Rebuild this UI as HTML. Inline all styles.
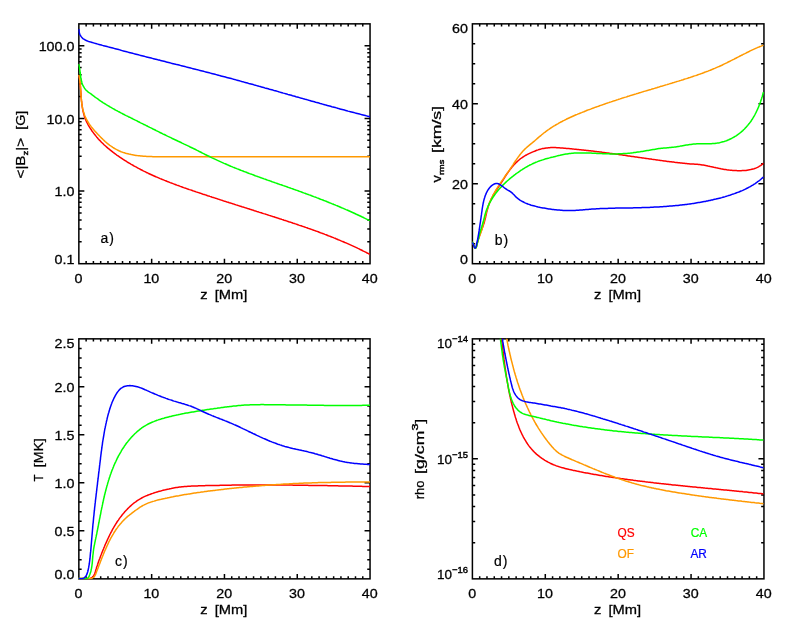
<!DOCTYPE html>
<html><head><meta charset="utf-8"><title>Figure</title>
<style>html,body{margin:0;padding:0;background:#fff}svg{display:block}text{font-family:"Liberation Sans",sans-serif}</style></head>
<body>
<svg width="786" height="629" viewBox="0 0 786 629" font-family='"Liberation Sans", sans-serif'>
<rect width="786" height="629" fill="#fff"/>
<defs>
<clipPath id="cla"><rect x="78.25" y="23.85" width="292.4" height="240.25"/></clipPath>
<clipPath id="clb"><rect x="471.8" y="23.85" width="292.75" height="240.25"/></clipPath>
<clipPath id="clc"><rect x="78.25" y="338.85" width="292.4" height="240.4"/></clipPath>
<clipPath id="cld"><rect x="471.8" y="338.85" width="292.75" height="240.4"/></clipPath>
<filter id="nf" x="0" y="0" width="786" height="629" filterUnits="userSpaceOnUse"><feOffset dx="0" dy="0"/></filter>
</defs>
<g stroke="#000" stroke-width="1.5" fill="none" stroke-linecap="butt">
<rect x="78.85" y="23.85" width="291.2" height="239.85" stroke-linejoin="miter"/>
<path d="M86.13 263.7L86.13 261M86.13 23.85L86.13 26.55M93.41 263.7L93.41 261M93.41 23.85L93.41 26.55M100.69 263.7L100.69 261M100.69 23.85L100.69 26.55M107.97 263.7L107.97 261M107.97 23.85L107.97 26.55M115.25 263.7L115.25 261M115.25 23.85L115.25 26.55M122.53 263.7L122.53 261M122.53 23.85L122.53 26.55M129.81 263.7L129.81 261M129.81 23.85L129.81 26.55M137.09 263.7L137.09 261M137.09 23.85L137.09 26.55M144.37 263.7L144.37 261M144.37 23.85L144.37 26.55M151.65 263.7L151.65 258.8M151.65 23.85L151.65 28.75M158.93 263.7L158.93 261M158.93 23.85L158.93 26.55M166.21 263.7L166.21 261M166.21 23.85L166.21 26.55M173.49 263.7L173.49 261M173.49 23.85L173.49 26.55M180.77 263.7L180.77 261M180.77 23.85L180.77 26.55M188.05 263.7L188.05 261M188.05 23.85L188.05 26.55M195.33 263.7L195.33 261M195.33 23.85L195.33 26.55M202.61 263.7L202.61 261M202.61 23.85L202.61 26.55M209.89 263.7L209.89 261M209.89 23.85L209.89 26.55M217.17 263.7L217.17 261M217.17 23.85L217.17 26.55M224.45 263.7L224.45 258.8M224.45 23.85L224.45 28.75M231.73 263.7L231.73 261M231.73 23.85L231.73 26.55M239.01 263.7L239.01 261M239.01 23.85L239.01 26.55M246.29 263.7L246.29 261M246.29 23.85L246.29 26.55M253.57 263.7L253.57 261M253.57 23.85L253.57 26.55M260.85 263.7L260.85 261M260.85 23.85L260.85 26.55M268.13 263.7L268.13 261M268.13 23.85L268.13 26.55M275.41 263.7L275.41 261M275.41 23.85L275.41 26.55M282.69 263.7L282.69 261M282.69 23.85L282.69 26.55M289.97 263.7L289.97 261M289.97 23.85L289.97 26.55M297.25 263.7L297.25 258.8M297.25 23.85L297.25 28.75M304.53 263.7L304.53 261M304.53 23.85L304.53 26.55M311.81 263.7L311.81 261M311.81 23.85L311.81 26.55M319.09 263.7L319.09 261M319.09 23.85L319.09 26.55M326.37 263.7L326.37 261M326.37 23.85L326.37 26.55M333.65 263.7L333.65 261M333.65 23.85L333.65 26.55M340.93 263.7L340.93 261M340.93 23.85L340.93 26.55M348.21 263.7L348.21 261M348.21 23.85L348.21 26.55M355.49 263.7L355.49 261M355.49 23.85L355.49 26.55M362.77 263.7L362.77 261M362.77 23.85L362.77 26.55M78.85 191.04L84.35 191.04M370.05 191.04L364.55 191.04M78.85 118.38L84.35 118.38M370.05 118.38L364.55 118.38M78.85 45.72L84.35 45.72M370.05 45.72L364.55 45.72M78.85 241.83L81.65 241.83M370.05 241.83L367.25 241.83M78.85 229.03L81.65 229.03M370.05 229.03L367.25 229.03M78.85 219.95L81.65 219.95M370.05 219.95L367.25 219.95M78.85 212.91L81.65 212.91M370.05 212.91L367.25 212.91M78.85 207.16L81.65 207.16M370.05 207.16L367.25 207.16M78.85 202.3L81.65 202.3M370.05 202.3L367.25 202.3M78.85 198.08L81.65 198.08M370.05 198.08L367.25 198.08M78.85 194.37L81.65 194.37M370.05 194.37L367.25 194.37M78.85 169.17L81.65 169.17M370.05 169.17L367.25 169.17M78.85 156.37L81.65 156.37M370.05 156.37L367.25 156.37M78.85 147.3L81.65 147.3M370.05 147.3L367.25 147.3M78.85 140.25L81.65 140.25M370.05 140.25L367.25 140.25M78.85 134.5L81.65 134.5M370.05 134.5L367.25 134.5M78.85 129.64L81.65 129.64M370.05 129.64L367.25 129.64M78.85 125.42L81.65 125.42M370.05 125.42L367.25 125.42M78.85 121.71L81.65 121.71M370.05 121.71L367.25 121.71M78.85 96.51L81.65 96.51M370.05 96.51L367.25 96.51M78.85 83.71L81.65 83.71M370.05 83.71L367.25 83.71M78.85 74.64L81.65 74.64M370.05 74.64L367.25 74.64M78.85 67.6L81.65 67.6M370.05 67.6L367.25 67.6M78.85 61.84L81.65 61.84M370.05 61.84L367.25 61.84M78.85 56.98L81.65 56.98M370.05 56.98L367.25 56.98M78.85 52.76L81.65 52.76M370.05 52.76L367.25 52.76M78.85 49.05L81.65 49.05M370.05 49.05L367.25 49.05"/>
</g>
<g fill="none" stroke-width="1.5" stroke-linejoin="round" stroke-linecap="butt">
<path d="M78.8 74.9 79 76.1 79.2 77.3 79.4 78.4 79.6 79.6 79.8 80.8 79.9 81.9 80.1 83.1 80.2 84.3 80.3 85.5 80.4 86.7 80.5 87.9 80.6 89.1 80.7 90.3 80.8 91.5 80.9 92.7 81 94 81.1 95.2 81.1 96.4 81.2 97.6 81.3 98.8 81.4 100 81.5 101.2 81.7 102.4 81.8 103.6 82 104.8 82.1 106 82.3 107.2 82.5 108.3 82.7 109.5 82.9 110.7 83.2 111.8 83.5 113 83.8 114.1 84.1 115.3 84.4 116.4 84.8 117.5 85.2 118.6 85.7 119.7 86.1 120.8 86.6 121.9 87.2 123 87.7 124 88.3 125.1 88.9 126.1 89.5 127.1 90.2 128.2 90.9 129.2 91.5 130.2 92.2 131.2 92.9 132.1 93.6 133.1 94.3 134.1 95.1 135 95.8 135.9 96.6 136.9 97.4 137.8 98.1 138.7 98.9 139.6 99.8 140.4 100.6 141.3 101.4 142.2 102.3 143 103.1 143.8 104 144.7 104.9 145.5 105.8 146.3 106.7 147.1 107.6 147.9 108.5 148.7 109.5 149.4 110.4 150.2 111.3 150.9 112.3 151.7 113.2 152.4 114.2 153.1 115.2 153.8 116.1 154.5 117.1 155.3 118.1 155.9 119.1 156.6 120.1 157.3 121.1 158 122.1 158.6 123.1 159.3 124.1 160 125.1 160.6 126.1 161.2 127.1 161.9 128.1 162.5 129.2 163.1 130.2 163.7 131.2 164.3 132.3 164.9 133.3 165.5 134.3 166.1 135.4 166.7 136.4 167.2 137.5 167.8 138.5 168.4 139.6 168.9 140.6 169.5 141.7 170 142.8 170.6 143.8 171.1 144.9 171.6 146 172.2 147.1 172.7 148.1 173.2 149.2 173.7 150.3 174.2 151.4 174.7 152.5 175.2 153.6 175.7 154.7 176.2 155.8 176.7 156.9 177.1 158 177.6 159.1 178.1 160.2 178.6 161.3 179 162.4 179.5 163.5 179.9 164.6 180.4 165.7 180.8 166.8 181.3 168 181.7 169.1 182.1 170.2 182.6 171.3 183 172.4 183.4 173.6 183.9 174.7 184.3 175.8 184.7 176.9 185.1 178.1 185.5 179.2 185.9 180.3 186.4 181.5 186.8 182.6 187.2 183.7 187.6 184.9 188 186 188.4 187.1 188.8 188.3 189.2 189.4 189.6 190.5 189.9 191.7 190.3 192.8 190.7 194 191.1 195.1 191.5 196.2 191.9 197.4 192.3 198.5 192.6 199.7 193 200.8 193.4 201.9 193.8 203.1 194.2 204.2 194.5 205.4 194.9 206.5 195.3 207.6 195.7 208.8 196 209.9 196.4 211.1 196.8 212.2 197.2 213.3 197.5 214.5 197.9 215.6 198.3 216.8 198.6 217.9 199 219.1 199.4 220.2 199.8 221.3 200.1 222.5 200.5 223.6 200.9 224.8 201.2 225.9 201.6 227 202 228.2 202.3 229.3 202.7 230.5 203 231.6 203.4 232.7 203.8 233.9 204.1 235 204.5 236.2 204.9 237.3 205.2 238.5 205.6 239.6 206 240.7 206.3 241.9 206.7 243 207 244.2 207.4 245.3 207.8 246.5 208.1 247.6 208.5 248.7 208.8 249.9 209.2 251 209.6 252.2 209.9 253.3 210.3 254.4 210.7 255.6 211 256.7 211.4 257.9 211.7 259 212.1 260.2 212.5 261.3 212.8 262.4 213.2 263.6 213.6 264.7 213.9 265.9 214.3 267 214.6 268.1 215 269.3 215.4 270.4 215.7 271.6 216.1 272.7 216.5 273.9 216.8 275 217.2 276.1 217.6 277.3 217.9 278.4 218.3 279.6 218.7 280.7 219 281.8 219.4 283 219.8 284.1 220.2 285.3 220.5 286.4 220.9 287.5 221.3 288.7 221.7 289.8 222 291 222.4 292.1 222.8 293.2 223.2 294.4 223.5 295.5 223.9 296.7 224.3 297.8 224.7 298.9 225.1 300.1 225.5 301.2 225.8 302.3 226.2 303.5 226.6 304.6 227 305.7 227.4 306.9 227.8 308 228.2 309.2 228.6 310.3 229 311.4 229.4 312.5 229.8 313.7 230.2 314.8 230.6 315.9 231 317.1 231.4 318.2 231.8 319.3 232.3 320.4 232.7 321.6 233.1 322.7 233.5 323.8 233.9 324.9 234.4 326.1 234.8 327.2 235.2 328.3 235.7 329.4 236.1 330.5 236.5 331.7 237 332.8 237.4 333.9 237.9 335 238.3 336.1 238.8 337.2 239.2 338.3 239.7 339.4 240.1 340.5 240.6 341.6 241.1 342.7 241.5 343.8 242 344.9 242.5 346 242.9 347.1 243.4 348.2 243.9 349.3 244.4 350.4 244.9 351.5 245.4 352.6 245.9 353.7 246.4 354.8 246.9 355.9 247.4 357 247.9 358 248.4 359.1 248.9 360.2 249.5 361.3 250 362.3 250.5 363.4 251.1 364.5 251.6 365.6 252.1 366.6 252.7 367.7 253.2 368.8 253.8 369.8 254.4" stroke="#ff0000" clip-path="url(#cla)"/>
<path d="M78.8 74.9 79 76.1 79.3 77.3 79.5 78.4 79.7 79.6 79.9 80.8 80 81.9 80.1 83.1 80.3 84.3 80.4 85.5 80.5 86.7 80.5 87.9 80.6 89.1 80.7 90.3 80.8 91.5 80.8 92.7 80.9 93.9 81 95.1 81.1 96.3 81.2 97.5 81.3 98.8 81.4 100 81.5 101.2 81.7 102.4 81.8 103.6 82 104.8 82.2 106 82.4 107.2 82.6 108.4 82.9 109.5 83.2 110.7 83.5 111.8 83.9 113 84.2 114.1 84.6 115.2 85.1 116.3 85.5 117.4 86 118.4 86.5 119.5 87.1 120.5 87.7 121.5 88.3 122.5 88.9 123.5 89.6 124.5 90.3 125.4 91 126.4 91.7 127.3 92.5 128.2 93.3 129.2 94 130.1 94.8 131 95.6 131.9 96.5 132.8 97.3 133.7 98.1 134.6 99 135.4 99.8 136.3 100.7 137.2 101.6 138.1 102.5 138.9 103.3 139.8 104.2 140.6 105.1 141.5 106.1 142.3 107 143.1 107.9 143.8 108.9 144.6 109.8 145.3 110.8 146 111.8 146.7 112.8 147.4 113.8 148 114.8 148.6 115.8 149.2 116.8 149.7 117.9 150.3 119 150.8 120 151.2 121.1 151.7 122.2 152.1 123.3 152.5 124.4 152.8 125.6 153.2 126.7 153.5 127.8 153.8 129 154.1 130.1 154.3 131.3 154.6 132.4 154.8 133.6 155 134.8 155.2 136 155.4 137.2 155.6 138.4 155.7 139.6 155.8 140.8 156 142 156.1 143.2 156.2 144.4 156.3 145.6 156.3 146.8 156.4 148 156.5 149.2 156.5 150.5 156.6 151.7 156.6 152.9 156.7 154.1 156.7 155.3 156.7 156.5 156.8 157.8 156.8 159 156.8 160.2 156.8 161.4 156.8 162.6 156.8 163.8 156.8 165 156.8 166.2 156.8 167.4 156.8 168.6 156.8 169.8 156.8 171 156.8 172.2 156.8 173.4 156.8 174.6 156.8 175.8 156.8 177 156.8 178.2 156.8 179.4 156.8 180.6 156.8 181.8 156.8 183 156.8 184.2 156.8 185.4 156.8 186.6 156.8 187.8 156.8 189 156.8 190.2 156.8 191.4 156.8 192.6 156.8 193.7 156.8 194.9 156.8 196.1 156.8 197.3 156.8 198.5 156.8 199.7 156.8 200.9 156.8 202.1 156.8 203.3 156.8 204.5 156.8 205.7 156.8 206.9 156.8 208.1 156.8 209.3 156.8 210.5 156.8 211.7 156.8 212.9 156.8 214.1 156.8 215.3 156.8 216.4 156.8 217.6 156.8 218.8 156.8 220 156.8 221.2 156.8 222.4 156.8 223.6 156.8 224.8 156.8 226 156.8 227.2 156.8 228.4 156.8 229.6 156.8 230.8 156.8 232 156.8 233.2 156.8 234.4 156.8 235.6 156.8 236.8 156.8 238 156.8 239.2 156.8 240.4 156.8 241.6 156.8 242.8 156.8 244 156.8 245.2 156.8 246.4 156.8 247.6 156.8 248.8 156.8 250 156.8 251.2 156.8 252.4 156.8 253.6 156.8 254.8 156.8 256 156.8 257.2 156.8 258.4 156.8 259.6 156.8 260.8 156.8 262 156.8 263.2 156.8 264.4 156.8 265.6 156.8 266.8 156.8 268 156.8 269.2 156.8 270.4 156.8 271.6 156.8 272.8 156.8 274 156.8 275.2 156.8 276.4 156.8 277.6 156.8 278.8 156.8 280 156.8 281.2 156.8 282.4 156.8 283.6 156.8 284.8 156.8 286 156.8 287.2 156.8 288.4 156.8 289.6 156.8 290.8 156.8 292 156.8 293.2 156.8 294.4 156.8 295.6 156.8 296.8 156.8 298 156.8 299.2 156.8 300.4 156.8 301.6 156.8 302.8 156.8 304 156.8 305.2 156.8 306.5 156.8 307.7 156.8 308.9 156.8 310.1 156.8 311.3 156.8 312.5 156.8 313.7 156.8 314.9 156.8 316.1 156.8 317.3 156.8 318.5 156.8 319.7 156.8 320.9 156.8 322.1 156.8 323.3 156.8 324.5 156.8 325.7 156.8 326.9 156.8 328.1 156.8 329.3 156.8 330.5 156.8 331.7 156.8 332.9 156.8 334.1 156.8 335.3 156.8 336.5 156.8 337.7 156.8 338.9 156.8 340.1 156.8 341.2 156.8 342.4 156.8 343.6 156.8 344.8 156.8 346 156.8 347.2 156.8 348.4 156.8 349.6 156.8 350.8 156.8 352 156.8 353.2 156.8 354.4 156.8 355.6 156.8 356.8 156.8 358 156.8 359.2 156.8 360.4 156.8 361.6 156.8 362.8 156.8 364 156.8 365.2 156.8 366.4 156.8 367.6 156.8 368.8 156.8 370 156.8" stroke="#ff9900" clip-path="url(#cla)"/>
<path d="M78.6 64.1 78.9 65.2 79.2 66.3 79.4 67.5 79.6 68.6 79.8 69.8 80 71 80.1 72.2 80.3 73.4 80.4 74.6 80.6 75.9 80.7 77.1 80.9 78.3 81.2 79.5 81.4 80.6 81.7 81.8 82 82.9 82.4 84.1 82.8 85.1 83.3 86.2 83.9 87.2 84.5 88.2 85.2 89.1 85.9 90 86.8 90.8 87.7 91.6 88.6 92.3 89.6 93 90.6 93.7 91.6 94.4 92.5 95.2 93.5 95.9 94.5 96.6 95.4 97.3 96.4 98 97.4 98.7 98.4 99.4 99.3 100.1 100.3 100.8 101.3 101.5 102.3 102.1 103.3 102.8 104.3 103.4 105.3 104 106.3 104.7 107.4 105.3 108.4 105.9 109.4 106.5 110.4 107.1 111.5 107.7 112.5 108.3 113.6 108.9 114.6 109.5 115.6 110.1 116.7 110.6 117.7 111.2 118.8 111.8 119.9 112.3 120.9 112.9 122 113.4 123 114 124.1 114.5 125.2 115.1 126.2 115.6 127.3 116.1 128.4 116.7 129.5 117.2 130.5 117.7 131.6 118.3 132.7 118.8 133.7 119.3 134.8 119.9 135.9 120.4 137 120.9 138 121.5 139.1 122 140.2 122.6 141.2 123.1 142.3 123.6 143.4 124.2 144.5 124.7 145.5 125.2 146.6 125.8 147.7 126.3 148.7 126.8 149.8 127.4 150.9 127.9 151.9 128.4 153 129 154.1 129.5 155.2 130 156.2 130.6 157.3 131.1 158.4 131.6 159.4 132.2 160.5 132.7 161.6 133.2 162.7 133.8 163.7 134.3 164.8 134.8 165.9 135.3 167 135.9 168 136.4 169.1 136.9 170.2 137.4 171.3 137.9 172.3 138.5 173.4 139 174.5 139.5 175.6 140 176.7 140.5 177.7 141 178.8 141.5 179.9 142 181 142.5 182.1 143.1 183.2 143.6 184.2 144.1 185.3 144.6 186.4 145.1 187.5 145.6 188.6 146.1 189.6 146.7 190.7 147.2 191.8 147.7 192.9 148.2 193.9 148.8 195 149.3 196.1 149.8 197.2 150.4 198.2 150.9 199.3 151.5 200.4 152 201.4 152.5 202.5 153.1 203.6 153.6 204.6 154.2 205.7 154.7 206.8 155.2 207.8 155.8 208.9 156.3 210 156.8 211.1 157.4 212.1 157.9 213.2 158.4 214.3 158.9 215.4 159.4 216.5 159.9 217.5 160.4 218.6 160.9 219.7 161.4 220.8 161.9 221.9 162.4 223 162.9 224.1 163.4 225.2 163.8 226.3 164.3 227.4 164.8 228.5 165.2 229.6 165.7 230.7 166.2 231.8 166.6 232.9 167.1 234 167.5 235.1 168 236.2 168.4 237.3 168.9 238.5 169.3 239.6 169.7 240.7 170.2 241.8 170.6 242.9 171 244 171.5 245.2 171.9 246.3 172.3 247.4 172.8 248.5 173.2 249.6 173.6 250.8 174 251.9 174.4 253 174.8 254.1 175.2 255.2 175.7 256.4 176.1 257.5 176.5 258.6 176.9 259.7 177.3 260.9 177.7 262 178.1 263.1 178.5 264.2 178.9 265.4 179.3 266.5 179.7 267.6 180.1 268.8 180.5 269.9 180.9 271 181.3 272.1 181.7 273.3 182.1 274.4 182.5 275.5 182.9 276.7 183.3 277.8 183.7 278.9 184.1 280 184.5 281.2 184.8 282.3 185.2 283.4 185.6 284.6 186 285.7 186.4 286.8 186.8 287.9 187.2 289.1 187.6 290.2 188 291.3 188.4 292.5 188.8 293.6 189.2 294.7 189.6 295.8 190 297 190.4 298.1 190.8 299.2 191.2 300.4 191.6 301.5 192 302.6 192.5 303.7 192.9 304.9 193.3 306 193.7 307.1 194.1 308.2 194.5 309.3 194.9 310.5 195.3 311.6 195.8 312.7 196.2 313.8 196.6 315 197 316.1 197.4 317.2 197.9 318.3 198.3 319.4 198.7 320.5 199.2 321.7 199.6 322.8 200 323.9 200.5 325 200.9 326.1 201.3 327.2 201.8 328.3 202.2 329.5 202.7 330.6 203.1 331.7 203.6 332.8 204 333.9 204.5 335 204.9 336.1 205.4 337.2 205.8 338.3 206.3 339.4 206.7 340.5 207.2 341.6 207.7 342.7 208.1 343.8 208.6 344.9 209.1 346 209.6 347.1 210 348.2 210.5 349.3 211 350.4 211.5 351.5 212 352.6 212.5 353.7 213 354.8 213.5 355.8 214 356.9 214.5 358 215 359.1 215.5 360.2 216 361.3 216.5 362.3 217 363.4 217.5 364.5 218.1 365.6 218.6 366.6 219.1 367.7 219.6 368.8 220.2 369.8 220.7" stroke="#00ff00" clip-path="url(#cla)"/>
<path d="M78.9 29.1 79 30.5 79.1 31.8 79.4 33.1 79.8 34.3 80.4 35.4 81 36.4 81.7 37.3 82.4 38.1 83.3 38.8 84.3 39.4 85.3 40 86.3 40.5 87.4 41 88.5 41.4 89.7 41.7 90.8 42.1 92 42.4 93.2 42.8 94.3 43.1 95.5 43.4 96.7 43.8 97.8 44.1 99 44.4 100.1 44.7 101.3 45 102.5 45.4 103.6 45.7 104.8 46 105.9 46.3 107.1 46.6 108.2 46.9 109.4 47.2 110.6 47.5 111.7 47.8 112.9 48.1 114 48.4 115.2 48.7 116.3 49 117.5 49.3 118.7 49.6 119.8 49.9 121 50.3 122.1 50.6 123.3 50.9 124.4 51.2 125.6 51.5 126.8 51.8 127.9 52.1 129.1 52.4 130.2 52.7 131.4 53 132.6 53.3 133.7 53.6 134.9 53.9 136.1 54.2 137.2 54.5 138.4 54.8 139.5 55.1 140.7 55.4 141.9 55.7 143 56 144.2 56.3 145.3 56.6 146.5 56.9 147.7 57.2 148.8 57.5 150 57.8 151.2 58.1 152.3 58.4 153.5 58.7 154.6 59 155.8 59.3 157 59.6 158.1 59.9 159.3 60.1 160.5 60.4 161.6 60.7 162.8 61 163.9 61.3 165.1 61.6 166.3 61.9 167.4 62.2 168.6 62.5 169.8 62.8 170.9 63.1 172.1 63.4 173.2 63.7 174.4 64 175.6 64.3 176.7 64.6 177.9 64.8 179.1 65.1 180.2 65.4 181.4 65.7 182.5 66 183.7 66.3 184.9 66.6 186 66.9 187.2 67.2 188.4 67.5 189.5 67.8 190.7 68.1 191.8 68.4 193 68.7 194.2 69 195.3 69.3 196.5 69.6 197.7 69.8 198.8 70.1 200 70.4 201.1 70.7 202.3 71 203.5 71.3 204.6 71.6 205.8 71.9 206.9 72.2 208.1 72.5 209.3 72.8 210.4 73.1 211.6 73.4 212.7 73.7 213.9 74 215.1 74.3 216.2 74.6 217.4 74.9 218.5 75.2 219.7 75.6 220.9 75.9 222 76.2 223.2 76.5 224.3 76.8 225.5 77.1 226.7 77.4 227.8 77.7 229 78 230.1 78.3 231.3 78.6 232.4 78.9 233.6 79.3 234.8 79.6 235.9 79.9 237.1 80.2 238.2 80.5 239.4 80.8 240.5 81.1 241.7 81.5 242.9 81.8 244 82.1 245.2 82.4 246.3 82.7 247.5 83 248.6 83.4 249.8 83.7 251 84 252.1 84.3 253.3 84.6 254.4 85 255.6 85.3 256.7 85.6 257.9 85.9 259 86.3 260.2 86.6 261.4 86.9 262.5 87.2 263.7 87.5 264.8 87.9 266 88.2 267.1 88.5 268.3 88.8 269.4 89.2 270.6 89.5 271.7 89.8 272.9 90.1 274.1 90.5 275.2 90.8 276.4 91.1 277.5 91.4 278.7 91.8 279.8 92.1 281 92.4 282.1 92.7 283.3 93.1 284.4 93.4 285.6 93.7 286.7 94 287.9 94.4 289.1 94.7 290.2 95 291.4 95.3 292.5 95.7 293.7 96 294.8 96.3 296 96.7 297.1 97 298.3 97.3 299.4 97.6 300.6 98 301.8 98.3 302.9 98.6 304.1 98.9 305.2 99.3 306.4 99.6 307.5 99.9 308.7 100.2 309.8 100.6 311 100.9 312.1 101.2 313.3 101.5 314.4 101.8 315.6 102.2 316.8 102.5 317.9 102.8 319.1 103.1 320.2 103.5 321.4 103.8 322.5 104.1 323.7 104.4 324.8 104.7 326 105.1 327.2 105.4 328.3 105.7 329.5 106 330.6 106.3 331.8 106.7 332.9 107 334.1 107.3 335.3 107.6 336.4 107.9 337.6 108.2 338.7 108.6 339.9 108.9 341 109.2 342.2 109.5 343.3 109.8 344.5 110.1 345.7 110.4 346.8 110.7 348 111.1 349.1 111.4 350.3 111.7 351.5 112 352.6 112.3 353.8 112.6 354.9 112.9 356.1 113.2 357.3 113.5 358.4 113.8 359.6 114.1 360.7 114.4 361.9 114.7 363.1 115 364.2 115.3 365.4 115.6 366.5 115.9 367.7 116.2 368.9 116.5 370 116.8" stroke="#0000ff" clip-path="url(#cla)"/>
</g>
<g stroke="#000" stroke-width="1.5" fill="none" stroke-linecap="butt">
<rect x="472.4" y="23.85" width="291.55" height="239.85" stroke-linejoin="miter"/>
<path d="M479.69 263.7L479.69 261M479.69 23.85L479.69 26.55M486.98 263.7L486.98 261M486.98 23.85L486.98 26.55M494.27 263.7L494.27 261M494.27 23.85L494.27 26.55M501.56 263.7L501.56 261M501.56 23.85L501.56 26.55M508.84 263.7L508.84 261M508.84 23.85L508.84 26.55M516.13 263.7L516.13 261M516.13 23.85L516.13 26.55M523.42 263.7L523.42 261M523.42 23.85L523.42 26.55M530.71 263.7L530.71 261M530.71 23.85L530.71 26.55M538 263.7L538 261M538 23.85L538 26.55M545.29 263.7L545.29 258.8M545.29 23.85L545.29 28.75M552.58 263.7L552.58 261M552.58 23.85L552.58 26.55M559.87 263.7L559.87 261M559.87 23.85L559.87 26.55M567.15 263.7L567.15 261M567.15 23.85L567.15 26.55M574.44 263.7L574.44 261M574.44 23.85L574.44 26.55M581.73 263.7L581.73 261M581.73 23.85L581.73 26.55M589.02 263.7L589.02 261M589.02 23.85L589.02 26.55M596.31 263.7L596.31 261M596.31 23.85L596.31 26.55M603.6 263.7L603.6 261M603.6 23.85L603.6 26.55M610.89 263.7L610.89 261M610.89 23.85L610.89 26.55M618.17 263.7L618.17 258.8M618.17 23.85L618.17 28.75M625.46 263.7L625.46 261M625.46 23.85L625.46 26.55M632.75 263.7L632.75 261M632.75 23.85L632.75 26.55M640.04 263.7L640.04 261M640.04 23.85L640.04 26.55M647.33 263.7L647.33 261M647.33 23.85L647.33 26.55M654.62 263.7L654.62 261M654.62 23.85L654.62 26.55M661.91 263.7L661.91 261M661.91 23.85L661.91 26.55M669.2 263.7L669.2 261M669.2 23.85L669.2 26.55M676.49 263.7L676.49 261M676.49 23.85L676.49 26.55M683.77 263.7L683.77 261M683.77 23.85L683.77 26.55M691.06 263.7L691.06 258.8M691.06 23.85L691.06 28.75M698.35 263.7L698.35 261M698.35 23.85L698.35 26.55M705.64 263.7L705.64 261M705.64 23.85L705.64 26.55M712.93 263.7L712.93 261M712.93 23.85L712.93 26.55M720.22 263.7L720.22 261M720.22 23.85L720.22 26.55M727.51 263.7L727.51 261M727.51 23.85L727.51 26.55M734.8 263.7L734.8 261M734.8 23.85L734.8 26.55M742.08 263.7L742.08 261M742.08 23.85L742.08 26.55M749.37 263.7L749.37 261M749.37 23.85L749.37 26.55M756.66 263.7L756.66 261M756.66 23.85L756.66 26.55M472.4 183.75L477.9 183.75M763.95 183.75L758.45 183.75M472.4 103.8L477.9 103.8M763.95 103.8L758.45 103.8M472.4 243.71L475.2 243.71M763.95 243.71L761.15 243.71M472.4 223.72L475.2 223.72M763.95 223.72L761.15 223.72M472.4 203.74L475.2 203.74M763.95 203.74L761.15 203.74M472.4 163.76L475.2 163.76M763.95 163.76L761.15 163.76M472.4 143.77L475.2 143.77M763.95 143.77L761.15 143.77M472.4 123.79L475.2 123.79M763.95 123.79L761.15 123.79M472.4 83.81L475.2 83.81M763.95 83.81L761.15 83.81M472.4 63.82L475.2 63.82M763.95 63.82L761.15 63.82M472.4 43.84L475.2 43.84M763.95 43.84L761.15 43.84"/>
</g>
<g fill="none" stroke-width="1.5" stroke-linejoin="round" stroke-linecap="butt">
<path d="M472.3 242.1 472.8 242.9 473.3 244.1 473.8 245.4 474.2 246.7 474.7 247.6 475.2 248 475.7 247.8 476.2 247.1 476.6 246 476.9 244.7 477.2 243.5 477.5 242.3 477.9 241.1 478.2 239.9 478.5 238.8 478.9 237.7 479.2 236.5 479.6 235.4 480 234.3 480.4 233.2 480.8 232.1 481.2 231 481.7 229.8 482.1 228.7 482.5 227.5 482.9 226.4 483.3 225.3 483.7 224.1 484.1 223 484.4 221.8 484.7 220.6 485 219.5 485.3 218.3 485.6 217.2 485.8 216 486.1 214.9 486.4 213.7 486.6 212.5 486.9 211.4 487.2 210.2 487.6 209 487.9 207.9 488.2 206.7 488.6 205.6 489 204.5 489.4 203.3 489.8 202.2 490.3 201.1 490.8 200 491.3 198.9 491.8 197.8 492.4 196.8 492.9 195.7 493.5 194.7 494.1 193.7 494.8 192.6 495.4 191.6 496.1 190.6 496.7 189.6 497.4 188.6 498.1 187.6 498.7 186.6 499.4 185.6 500.1 184.6 500.7 183.6 501.4 182.6 502 181.6 502.7 180.6 503.3 179.6 504 178.6 504.6 177.6 505.2 176.5 505.9 175.5 506.5 174.5 507.2 173.5 507.9 172.5 508.6 171.6 509.3 170.6 510 169.6 510.7 168.7 511.5 167.7 512.2 166.8 513 165.9 513.8 165 514.6 164.1 515.5 163.2 516.3 162.4 517.2 161.6 518.1 160.8 519 160 519.9 159.2 520.8 158.5 521.8 157.8 522.8 157.1 523.8 156.5 524.8 155.8 525.8 155.2 526.9 154.7 528 154.1 529 153.6 530.1 153.1 531.2 152.6 532.3 152.1 533.5 151.6 534.6 151.2 535.7 150.7 536.8 150.3 538 149.9 539.1 149.5 540.3 149.2 541.4 148.9 542.6 148.6 543.7 148.4 544.9 148.2 546.1 148 547.3 147.9 548.4 147.8 549.6 147.7 550.8 147.6 552 147.6 553.2 147.6 554.4 147.6 555.6 147.6 556.8 147.7 558 147.7 559.2 147.8 560.4 147.9 561.6 148 562.8 148.1 564 148.2 565.3 148.3 566.5 148.4 567.7 148.5 568.9 148.6 570.1 148.7 571.2 148.8 572.4 148.9 573.6 149.1 574.8 149.2 576 149.3 577.2 149.4 578.4 149.5 579.6 149.7 580.8 149.8 582 149.9 583.2 150 584.4 150.2 585.5 150.3 586.7 150.4 587.9 150.5 589.1 150.7 590.3 150.8 591.5 151 592.7 151.1 593.9 151.2 595.1 151.4 596.2 151.5 597.4 151.7 598.6 151.8 599.8 152 601 152.1 602.2 152.3 603.4 152.4 604.6 152.6 605.7 152.7 606.9 152.9 608.1 153 609.3 153.2 610.5 153.4 611.7 153.5 612.9 153.7 614.1 153.8 615.3 154 616.4 154.2 617.6 154.3 618.8 154.5 620 154.7 621.2 154.8 622.4 155 623.6 155.2 624.8 155.3 625.9 155.5 627.1 155.7 628.3 155.9 629.5 156 630.7 156.2 631.9 156.4 633.1 156.5 634.3 156.7 635.5 156.9 636.6 157 637.8 157.2 639 157.4 640.2 157.6 641.4 157.7 642.6 157.9 643.8 158.1 645 158.2 646.1 158.4 647.3 158.6 648.5 158.7 649.7 158.9 650.9 159.1 652.1 159.3 653.3 159.4 654.5 159.6 655.7 159.7 656.8 159.9 658 160.1 659.2 160.2 660.4 160.4 661.6 160.6 662.8 160.7 664 160.9 665.2 161 666.3 161.2 667.5 161.4 668.7 161.5 669.9 161.7 671.1 161.8 672.3 162 673.5 162.1 674.7 162.3 675.9 162.4 677 162.5 678.2 162.7 679.4 162.8 680.6 163 681.8 163.1 683 163.2 684.2 163.3 685.4 163.5 686.6 163.6 687.7 163.7 688.9 163.8 690.1 163.9 691.3 163.9 692.5 164 693.7 164.1 694.9 164.2 696.1 164.3 697.3 164.3 698.5 164.5 699.7 164.6 700.9 164.7 702.1 164.9 703.3 165.1 704.4 165.3 705.6 165.5 706.8 165.7 708 166 709.1 166.2 710.3 166.5 711.5 166.7 712.7 167 713.8 167.3 715 167.5 716.2 167.8 717.4 168 718.5 168.3 719.7 168.5 720.9 168.8 722.1 169 723.2 169.2 724.4 169.4 725.6 169.6 726.8 169.8 728 169.9 729.2 170.1 730.4 170.2 731.6 170.3 732.8 170.4 733.9 170.5 735.1 170.6 736.3 170.6 737.5 170.7 738.7 170.7 739.9 170.7 741.1 170.7 742.3 170.6 743.5 170.5 744.7 170.5 745.9 170.4 747.1 170.2 748.3 170 749.5 169.8 750.7 169.6 751.9 169.3 753 169 754.1 168.7 755.3 168.3 756.4 167.9 757.4 167.4 758.5 166.8 759.5 166.2 760.6 165.6 761.5 164.9 762.5 164.1 763.4 163.2" stroke="#ff0000" clip-path="url(#clb)"/>
<path d="M472.3 242 472.8 243.1 473.4 244.1 473.8 245.2 474.2 246.5 474.7 247.6 475.2 248.3 475.8 248 476.3 247 476.6 245.9 476.8 244.7 477.1 243.4 477.4 242.3 477.7 241.1 478.1 240 478.5 238.8 478.9 237.7 479.4 236.6 479.8 235.5 480.2 234.4 480.6 233.2 481 232.1 481.4 231 481.8 229.8 482.1 228.7 482.4 227.5 482.7 226.4 483 225.2 483.3 224.1 483.6 222.9 483.9 221.7 484.2 220.5 484.5 219.4 484.7 218.2 485 217 485.3 215.9 485.6 214.7 485.9 213.5 486.2 212.4 486.6 211.2 486.9 210.1 487.3 208.9 487.7 207.8 488.1 206.7 488.5 205.6 488.9 204.4 489.3 203.3 489.8 202.2 490.3 201.1 490.7 200 491.2 199 491.8 197.9 492.3 196.8 492.8 195.7 493.4 194.7 493.9 193.6 494.5 192.6 495.1 191.5 495.7 190.5 496.3 189.5 496.9 188.4 497.6 187.4 498.2 186.4 498.9 185.4 499.5 184.4 500.2 183.4 500.8 182.4 501.5 181.4 502.2 180.4 502.9 179.5 503.6 178.5 504.3 177.5 504.9 176.5 505.6 175.5 506.3 174.5 507 173.6 507.7 172.6 508.4 171.6 509.1 170.6 509.8 169.6 510.4 168.6 511.1 167.6 511.8 166.6 512.4 165.6 513.1 164.6 513.7 163.6 514.4 162.5 515.1 161.5 515.7 160.5 516.4 159.6 517.1 158.6 517.8 157.6 518.5 156.6 519.2 155.7 519.9 154.7 520.7 153.8 521.4 152.9 522.2 152 523 151.1 523.8 150.2 524.6 149.4 525.5 148.5 526.4 147.7 527.3 146.9 528.2 146.2 529.1 145.4 530 144.6 530.9 143.9 531.9 143.1 532.8 142.3 533.7 141.6 534.7 140.8 535.6 140 536.5 139.2 537.4 138.4 538.3 137.6 539.2 136.8 540.1 136.1 541.1 135.3 542 134.5 542.9 133.8 543.8 133 544.8 132.3 545.7 131.6 546.7 130.9 547.7 130.2 548.7 129.5 549.6 128.8 550.6 128.1 551.6 127.5 552.6 126.8 553.6 126.2 554.7 125.6 555.7 125 556.7 124.4 557.8 123.8 558.8 123.2 559.8 122.6 560.9 122 562 121.5 563 120.9 564.1 120.4 565.2 119.8 566.2 119.3 567.3 118.8 568.4 118.3 569.5 117.8 570.6 117.3 571.7 116.8 572.8 116.3 573.9 115.8 575 115.3 576.1 114.8 577.2 114.4 578.3 113.9 579.4 113.5 580.5 113 581.6 112.6 582.7 112.1 583.9 111.7 585 111.2 586.1 110.8 587.2 110.3 588.3 109.9 589.5 109.5 590.6 109.1 591.7 108.6 592.8 108.2 594 107.8 595.1 107.4 596.2 107 597.3 106.6 598.5 106.2 599.6 105.8 600.7 105.4 601.9 105 603 104.6 604.1 104.2 605.3 103.8 606.4 103.4 607.5 103 608.7 102.6 609.8 102.2 610.9 101.9 612.1 101.5 613.2 101.1 614.3 100.7 615.5 100.4 616.6 100 617.8 99.6 618.9 99.2 620 98.9 621.2 98.5 622.3 98.1 623.5 97.8 624.6 97.4 625.7 97.1 626.9 96.7 628 96.3 629.2 96 630.3 95.6 631.5 95.3 632.6 94.9 633.8 94.6 634.9 94.2 636 93.9 637.2 93.5 638.3 93.2 639.5 92.8 640.6 92.5 641.8 92.1 642.9 91.8 644.1 91.4 645.2 91.1 646.4 90.8 647.5 90.4 648.7 90.1 649.8 89.7 651 89.4 652.1 89 653.3 88.7 654.4 88.4 655.6 88 656.7 87.7 657.9 87.3 659 87 660.1 86.6 661.3 86.3 662.4 86 663.6 85.6 664.7 85.3 665.9 84.9 667 84.6 668.2 84.2 669.3 83.9 670.5 83.5 671.6 83.2 672.8 82.8 673.9 82.5 675.1 82.1 676.2 81.8 677.4 81.4 678.5 81.1 679.7 80.7 680.8 80.4 682 80 683.1 79.7 684.2 79.3 685.4 78.9 686.5 78.6 687.7 78.2 688.8 77.8 690 77.5 691.1 77.1 692.2 76.7 693.4 76.3 694.5 75.9 695.6 75.6 696.8 75.2 697.9 74.8 699 74.4 700.2 74 701.3 73.6 702.4 73.2 703.6 72.8 704.7 72.3 705.8 71.9 706.9 71.5 708 71.1 709.1 70.6 710.3 70.2 711.4 69.7 712.5 69.3 713.6 68.8 714.7 68.4 715.8 67.9 716.9 67.4 718 66.9 719.1 66.5 720.2 66 721.3 65.5 722.4 65 723.4 64.4 724.5 63.9 725.6 63.4 726.7 62.9 727.7 62.3 728.8 61.8 729.9 61.3 731 60.7 732 60.2 733.1 59.6 734.2 59.1 735.2 58.5 736.3 58 737.4 57.4 738.4 56.9 739.5 56.3 740.6 55.8 741.6 55.2 742.7 54.7 743.8 54.1 744.9 53.6 745.9 53.1 747 52.5 748.1 52 749.1 51.5 750.2 50.9 751.3 50.4 752.4 49.9 753.5 49.4 754.6 48.9 755.7 48.4 756.8 47.9 757.8 47.4 759 47 760.1 46.5 761.2 46.1 762.3 45.6 763.4 45.2" stroke="#ff9900" clip-path="url(#clb)"/>
<path d="M472.3 241.8 472.8 242.9 473.3 243.9 473.7 245.1 474.2 246.3 474.7 247.5 475.2 248.2 475.7 248.2 476.2 247.4 476.6 246.4 476.9 245.1 477.2 243.9 477.5 242.7 477.8 241.5 478.1 240.3 478.4 239.1 478.6 238 478.9 236.8 479.2 235.7 479.4 234.6 479.7 233.4 480 232.3 480.4 231.1 480.7 230 481.1 228.8 481.4 227.7 481.8 226.5 482.1 225.4 482.5 224.2 482.8 223 483.1 221.9 483.5 220.7 483.8 219.5 484.1 218.4 484.4 217.2 484.7 216 485 214.9 485.3 213.7 485.7 212.6 486 211.5 486.4 210.3 486.8 209.2 487.3 208.1 487.7 207 488.2 205.9 488.7 204.8 489.2 203.7 489.8 202.7 490.4 201.6 491 200.6 491.6 199.5 492.2 198.5 492.8 197.5 493.5 196.5 494.2 195.5 494.9 194.5 495.6 193.6 496.3 192.6 497 191.7 497.8 190.7 498.6 189.8 499.3 188.9 500.1 188 501 187.1 501.8 186.3 502.6 185.4 503.4 184.6 504.3 183.7 505.2 182.9 506 182.1 506.9 181.3 507.8 180.5 508.7 179.7 509.6 178.9 510.5 178.1 511.5 177.4 512.4 176.6 513.4 175.9 514.3 175.1 515.3 174.4 516.2 173.7 517.2 173 518.2 172.3 519.2 171.6 520.2 170.9 521.2 170.2 522.2 169.6 523.2 168.9 524.2 168.3 525.2 167.7 526.2 167.1 527.3 166.5 528.3 165.9 529.4 165.3 530.5 164.8 531.5 164.3 532.6 163.7 533.7 163.2 534.8 162.8 535.9 162.3 537 161.9 538.1 161.4 539.2 161 540.3 160.6 541.5 160.2 542.6 159.9 543.8 159.5 544.9 159.1 546.1 158.8 547.2 158.5 548.4 158.2 549.5 157.9 550.7 157.5 551.9 157.2 553 157 554.2 156.7 555.4 156.4 556.5 156.1 557.7 155.8 558.9 155.5 560 155.3 561.2 155 562.4 154.7 563.5 154.5 564.7 154.3 565.9 154.1 567.1 153.9 568.3 153.7 569.4 153.5 570.6 153.4 571.8 153.3 573 153.2 574.2 153.1 575.4 153 576.6 153 577.8 152.9 579 152.9 580.2 152.9 581.4 152.9 582.6 152.9 583.8 152.9 585 152.9 586.2 153 587.4 153 588.6 153 589.8 153.1 591 153.1 592.2 153.2 593.4 153.2 594.5 153.3 595.7 153.3 596.9 153.4 598.1 153.4 599.3 153.5 600.5 153.6 601.7 153.6 602.9 153.7 604.1 153.7 605.3 153.7 606.5 153.8 607.7 153.8 608.9 153.8 610.1 153.9 611.3 153.9 612.5 153.9 613.7 153.9 614.9 153.9 616.1 153.9 617.3 153.9 618.5 153.8 619.7 153.8 620.9 153.8 622.1 153.7 623.3 153.6 624.5 153.6 625.7 153.5 626.9 153.4 628.1 153.3 629.3 153.2 630.5 153.1 631.7 152.9 632.9 152.8 634.1 152.6 635.2 152.5 636.4 152.3 637.6 152.1 638.8 151.9 640 151.8 641.2 151.6 642.3 151.4 643.5 151.2 644.7 151 645.9 150.8 647.1 150.6 648.3 150.4 649.4 150.2 650.6 150 651.8 149.8 653 149.6 654.2 149.4 655.3 149.2 656.5 149 657.7 148.8 658.9 148.6 660.1 148.5 661.3 148.3 662.5 148.2 663.7 148.1 664.9 148 666.1 147.9 667.2 147.8 668.4 147.7 669.6 147.6 670.8 147.5 672 147.3 673.2 147.2 674.4 147.1 675.6 146.9 676.8 146.7 678 146.5 679.2 146.4 680.3 146.1 681.5 145.9 682.7 145.7 683.9 145.5 685.1 145.3 686.2 145.1 687.4 144.9 688.6 144.7 689.8 144.5 691 144.4 692.2 144.2 693.4 144.1 694.6 144 695.7 143.9 696.9 143.8 698.1 143.7 699.3 143.7 700.5 143.7 701.7 143.7 702.9 143.7 704.1 143.7 705.3 143.7 706.5 143.7 707.7 143.7 708.9 143.7 710.1 143.7 711.3 143.7 712.5 143.6 713.7 143.5 714.9 143.4 716.1 143.2 717.2 143.1 718.4 142.9 719.6 142.7 720.7 142.4 721.9 142.1 723.1 141.8 724.2 141.5 725.3 141.1 726.5 140.7 727.6 140.2 728.7 139.8 729.8 139.3 730.9 138.8 732 138.2 733 137.6 734.1 137 735.1 136.4 736.1 135.8 737.1 135.1 738.1 134.4 739.1 133.7 740 133 741 132.2 741.9 131.4 742.8 130.6 743.6 129.8 744.5 129 745.3 128.1 746.1 127.2 746.9 126.3 747.7 125.4 748.4 124.5 749.2 123.6 749.9 122.6 750.6 121.7 751.3 120.7 751.9 119.7 752.6 118.7 753.2 117.7 753.8 116.6 754.4 115.6 755 114.5 755.5 113.5 756.1 112.4 756.6 111.3 757.1 110.2 757.6 109.1 758.1 108 758.6 106.9 759 105.8 759.5 104.7 759.9 103.5 760.3 102.4 760.7 101.3 761.1 100.1 761.5 99 761.8 97.8 762.2 96.7 762.5 95.6 762.8 94.4 763.1 93.3 763.4 92.1" stroke="#00ff00" clip-path="url(#clb)"/>
<path d="M472.3 242.5 472.8 243.3 473.3 244.5 473.8 245.8 474.2 247 474.7 247.9 475.3 248.1 475.7 247.5 476.1 246.4 476.4 245.2 476.7 244 476.9 242.8 477.2 241.6 477.4 240.4 477.7 239.2 477.9 238 478.1 236.9 478.3 235.7 478.5 234.5 478.7 233.3 478.9 232.1 479.1 230.9 479.2 229.8 479.4 228.6 479.6 227.4 479.8 226.2 479.9 225.1 480.1 223.9 480.3 222.7 480.5 221.5 480.6 220.3 480.8 219.2 481 218 481.1 216.8 481.3 215.6 481.5 214.4 481.6 213.2 481.8 212 482 210.8 482.1 209.6 482.3 208.4 482.5 207.2 482.7 206 482.9 204.8 483.1 203.6 483.4 202.5 483.6 201.3 483.9 200.1 484.2 199 484.6 197.8 484.9 196.7 485.3 195.5 485.8 194.4 486.2 193.4 486.7 192.3 487.3 191.2 487.9 190.2 488.5 189.2 489.2 188.2 490 187.3 490.8 186.4 491.7 185.6 492.7 184.9 493.7 184.3 494.9 183.8 496 183.6 497.2 183.6 498.3 183.8 499.4 184.3 500.4 184.9 501.5 185.6 502.5 186.3 503.4 187 504.3 187.8 505.3 188.5 506.3 189.1 507.3 189.8 508.3 190.4 509.4 191 510.4 191.6 511.4 192.4 512.3 193.1 513.1 194 514 194.8 514.8 195.7 515.6 196.6 516.5 197.4 517.4 198.2 518.3 198.9 519.3 199.6 520.3 200.3 521.3 200.9 522.4 201.5 523.5 202 524.5 202.6 525.6 203.1 526.7 203.5 527.8 204 529 204.4 530.1 204.8 531.2 205.2 532.4 205.5 533.5 205.8 534.7 206.1 535.8 206.4 537 206.7 538.2 207 539.3 207.2 540.5 207.5 541.7 207.7 542.9 207.9 544.1 208.1 545.3 208.3 546.4 208.5 547.6 208.7 548.8 208.9 550 209 551.2 209.2 552.4 209.4 553.6 209.5 554.8 209.7 556 209.8 557.2 209.9 558.3 210 559.5 210.1 560.7 210.2 561.9 210.3 563.1 210.4 564.3 210.5 565.5 210.5 566.7 210.5 567.9 210.6 569.1 210.6 570.3 210.5 571.5 210.5 572.7 210.5 573.9 210.4 575.1 210.4 576.3 210.3 577.5 210.2 578.7 210.2 579.9 210.1 581.1 210 582.3 209.9 583.5 209.8 584.7 209.7 585.8 209.6 587 209.5 588.2 209.4 589.4 209.3 590.6 209.2 591.8 209.1 593 209 594.2 208.9 595.4 208.9 596.6 208.8 597.8 208.7 599 208.7 600.2 208.6 601.4 208.6 602.6 208.5 603.8 208.5 605 208.4 606.2 208.4 607.4 208.4 608.6 208.3 609.8 208.3 611 208.3 612.2 208.2 613.4 208.2 614.6 208.2 615.8 208.1 617 208.1 618.2 208.1 619.4 208.1 620.6 208.1 621.8 208 623 208 624.2 208 625.4 208 626.6 208 627.8 207.9 629 207.9 630.2 207.9 631.4 207.9 632.6 207.9 633.8 207.8 635 207.8 636.2 207.8 637.4 207.8 638.6 207.7 639.8 207.7 641 207.7 642.2 207.6 643.4 207.6 644.6 207.5 645.8 207.5 647 207.5 648.2 207.4 649.4 207.4 650.6 207.3 651.8 207.3 653 207.2 654.2 207.1 655.4 207.1 656.6 207 657.8 207 659 206.9 660.2 206.8 661.4 206.7 662.6 206.7 663.8 206.6 665 206.5 666.1 206.4 667.3 206.3 668.5 206.2 669.7 206.1 670.9 206 672.1 205.9 673.3 205.8 674.5 205.7 675.7 205.6 676.9 205.5 678.1 205.4 679.3 205.2 680.5 205.1 681.7 205 682.9 204.8 684.1 204.7 685.2 204.5 686.4 204.4 687.6 204.2 688.8 204.1 690 203.9 691.2 203.7 692.4 203.6 693.6 203.4 694.8 203.2 695.9 203 697.1 202.8 698.3 202.6 699.5 202.4 700.7 202.2 701.9 202 703 201.8 704.2 201.6 705.4 201.4 706.6 201.1 707.7 200.9 708.9 200.6 710.1 200.4 711.3 200.1 712.4 199.9 713.6 199.6 714.8 199.3 715.9 199.1 717.1 198.8 718.3 198.5 719.4 198.2 720.6 197.9 721.7 197.6 722.9 197.2 724.1 196.9 725.2 196.6 726.4 196.2 727.5 195.9 728.7 195.5 729.8 195.2 731 194.8 732.1 194.4 733.2 194 734.4 193.6 735.5 193.2 736.6 192.8 737.7 192.4 738.9 192 740 191.5 741.1 191 742.2 190.6 743.3 190.1 744.3 189.6 745.4 189.1 746.5 188.5 747.6 188 748.6 187.4 749.7 186.9 750.7 186.3 751.7 185.7 752.8 185.1 753.8 184.4 754.8 183.8 755.8 183.1 756.8 182.4 757.7 181.7 758.7 181 759.7 180.3 760.6 179.5 761.5 178.7 762.5 177.9 763.4 177.1" stroke="#0000ff" clip-path="url(#clb)"/>
</g>
<g stroke="#000" stroke-width="1.5" fill="none" stroke-linecap="butt">
<rect x="78.85" y="338.85" width="291.2" height="240" stroke-linejoin="miter"/>
<path d="M86.13 578.85L86.13 576.15M86.13 338.85L86.13 341.55M93.41 578.85L93.41 576.15M93.41 338.85L93.41 341.55M100.69 578.85L100.69 576.15M100.69 338.85L100.69 341.55M107.97 578.85L107.97 576.15M107.97 338.85L107.97 341.55M115.25 578.85L115.25 576.15M115.25 338.85L115.25 341.55M122.53 578.85L122.53 576.15M122.53 338.85L122.53 341.55M129.81 578.85L129.81 576.15M129.81 338.85L129.81 341.55M137.09 578.85L137.09 576.15M137.09 338.85L137.09 341.55M144.37 578.85L144.37 576.15M144.37 338.85L144.37 341.55M151.65 578.85L151.65 573.95M151.65 338.85L151.65 343.75M158.93 578.85L158.93 576.15M158.93 338.85L158.93 341.55M166.21 578.85L166.21 576.15M166.21 338.85L166.21 341.55M173.49 578.85L173.49 576.15M173.49 338.85L173.49 341.55M180.77 578.85L180.77 576.15M180.77 338.85L180.77 341.55M188.05 578.85L188.05 576.15M188.05 338.85L188.05 341.55M195.33 578.85L195.33 576.15M195.33 338.85L195.33 341.55M202.61 578.85L202.61 576.15M202.61 338.85L202.61 341.55M209.89 578.85L209.89 576.15M209.89 338.85L209.89 341.55M217.17 578.85L217.17 576.15M217.17 338.85L217.17 341.55M224.45 578.85L224.45 573.95M224.45 338.85L224.45 343.75M231.73 578.85L231.73 576.15M231.73 338.85L231.73 341.55M239.01 578.85L239.01 576.15M239.01 338.85L239.01 341.55M246.29 578.85L246.29 576.15M246.29 338.85L246.29 341.55M253.57 578.85L253.57 576.15M253.57 338.85L253.57 341.55M260.85 578.85L260.85 576.15M260.85 338.85L260.85 341.55M268.13 578.85L268.13 576.15M268.13 338.85L268.13 341.55M275.41 578.85L275.41 576.15M275.41 338.85L275.41 341.55M282.69 578.85L282.69 576.15M282.69 338.85L282.69 341.55M289.97 578.85L289.97 576.15M289.97 338.85L289.97 341.55M297.25 578.85L297.25 573.95M297.25 338.85L297.25 343.75M304.53 578.85L304.53 576.15M304.53 338.85L304.53 341.55M311.81 578.85L311.81 576.15M311.81 338.85L311.81 341.55M319.09 578.85L319.09 576.15M319.09 338.85L319.09 341.55M326.37 578.85L326.37 576.15M326.37 338.85L326.37 341.55M333.65 578.85L333.65 576.15M333.65 338.85L333.65 341.55M340.93 578.85L340.93 576.15M340.93 338.85L340.93 341.55M348.21 578.85L348.21 576.15M348.21 338.85L348.21 341.55M355.49 578.85L355.49 576.15M355.49 338.85L355.49 341.55M362.77 578.85L362.77 576.15M362.77 338.85L362.77 341.55M78.85 530.85L84.35 530.85M370.05 530.85L364.55 530.85M78.85 482.85L84.35 482.85M370.05 482.85L364.55 482.85M78.85 434.85L84.35 434.85M370.05 434.85L364.55 434.85M78.85 386.85L84.35 386.85M370.05 386.85L364.55 386.85M78.85 569.25L81.65 569.25M370.05 569.25L367.25 569.25M78.85 559.65L81.65 559.65M370.05 559.65L367.25 559.65M78.85 550.05L81.65 550.05M370.05 550.05L367.25 550.05M78.85 540.45L81.65 540.45M370.05 540.45L367.25 540.45M78.85 521.25L81.65 521.25M370.05 521.25L367.25 521.25M78.85 511.65L81.65 511.65M370.05 511.65L367.25 511.65M78.85 502.05L81.65 502.05M370.05 502.05L367.25 502.05M78.85 492.45L81.65 492.45M370.05 492.45L367.25 492.45M78.85 473.25L81.65 473.25M370.05 473.25L367.25 473.25M78.85 463.65L81.65 463.65M370.05 463.65L367.25 463.65M78.85 454.05L81.65 454.05M370.05 454.05L367.25 454.05M78.85 444.45L81.65 444.45M370.05 444.45L367.25 444.45M78.85 425.25L81.65 425.25M370.05 425.25L367.25 425.25M78.85 415.65L81.65 415.65M370.05 415.65L367.25 415.65M78.85 406.05L81.65 406.05M370.05 406.05L367.25 406.05M78.85 396.45L81.65 396.45M370.05 396.45L367.25 396.45M78.85 377.25L81.65 377.25M370.05 377.25L367.25 377.25M78.85 367.65L81.65 367.65M370.05 367.65L367.25 367.65M78.85 358.05L81.65 358.05M370.05 358.05L367.25 358.05M78.85 348.45L81.65 348.45M370.05 348.45L367.25 348.45"/>
</g>
<g fill="none" stroke-width="1.5" stroke-linejoin="round" stroke-linecap="butt">
<path d="M78.2 578.6 79.3 578.4 80.4 578.4 81.6 578.4 82.8 578.5 84.1 578.6 85.3 578.7 86.6 578.7 87.8 578.7 89 578.6 90.1 578.3 91.2 577.9 92.1 577.3 93 576.6 93.7 575.7 94.3 574.7 94.7 573.7 95.1 572.5 95.5 571.3 95.8 570.1 96.2 569 96.5 567.8 96.9 566.6 97.3 565.5 97.7 564.3 98 563.2 98.4 562 98.8 560.9 99.2 559.8 99.7 558.7 100.1 557.5 100.5 556.4 100.9 555.3 101.4 554.2 101.8 553.1 102.2 552 102.7 550.9 103.1 549.8 103.6 548.7 104 547.6 104.5 546.5 104.9 545.4 105.4 544.3 105.9 543.2 106.4 542.1 106.9 541 107.4 539.9 107.9 538.8 108.4 537.7 108.9 536.6 109.4 535.6 109.9 534.5 110.5 533.4 111 532.4 111.6 531.3 112.1 530.3 112.7 529.2 113.3 528.2 113.9 527.1 114.5 526.1 115.1 525.1 115.7 524.1 116.4 523 117 522 117.7 521 118.4 520.1 119 519.1 119.7 518.1 120.5 517.1 121.2 516.2 121.9 515.2 122.7 514.3 123.4 513.4 124.2 512.5 125 511.5 125.8 510.7 126.7 509.8 127.5 508.9 128.4 508 129.2 507.2 130.1 506.4 131 505.6 131.9 504.8 132.8 504 133.8 503.2 134.7 502.5 135.7 501.8 136.6 501.1 137.6 500.4 138.6 499.8 139.7 499.2 140.7 498.6 141.7 498 142.8 497.4 143.8 496.9 144.9 496.4 146 495.9 147.1 495.5 148.2 495 149.3 494.6 150.4 494.2 151.5 493.8 152.7 493.4 153.8 493 154.9 492.6 156.1 492.3 157.2 491.9 158.4 491.6 159.6 491.3 160.7 491 161.9 490.6 163 490.3 164.2 490 165.4 489.8 166.5 489.5 167.7 489.2 168.9 489 170.1 488.7 171.2 488.5 172.4 488.2 173.6 488 174.8 487.8 176 487.6 177.2 487.5 178.3 487.3 179.5 487.1 180.7 487 181.9 486.8 183.1 486.7 184.3 486.6 185.5 486.5 186.7 486.4 187.9 486.3 189.1 486.3 190.3 486.2 191.5 486.1 192.7 486.1 193.9 486 195.1 486 196.2 485.9 197.4 485.9 198.6 485.8 199.8 485.8 201 485.8 202.2 485.7 203.4 485.7 204.6 485.7 205.8 485.6 207 485.6 208.2 485.6 209.4 485.6 210.6 485.5 211.8 485.5 213 485.5 214.2 485.5 215.4 485.4 216.6 485.4 217.8 485.4 219 485.4 220.2 485.3 221.4 485.3 222.6 485.3 223.8 485.3 225 485.3 226.2 485.2 227.4 485.2 228.6 485.2 229.8 485.2 231 485.2 232.2 485.1 233.4 485.1 234.6 485.1 235.8 485.1 237 485.1 238.2 485.1 239.4 485.1 240.6 485.1 241.8 485.1 243 485 244.2 485 245.4 485 246.6 485 247.8 485 249 485 250.2 485 251.4 485 252.6 485 253.8 485 255 485 256.2 485 257.4 485 258.5 485 259.7 485 260.9 485 262.1 485 263.3 485 264.5 485 265.7 485 266.9 485 268.1 485 269.3 485 270.5 485 271.7 485 272.9 485 274.1 485 275.3 485 276.5 485 277.7 485 278.9 485 280.1 485 281.3 485.1 282.5 485.1 283.7 485.1 284.9 485.1 286.1 485.1 287.3 485.1 288.5 485.1 289.7 485.1 290.9 485.1 292.1 485.1 293.3 485.2 294.5 485.2 295.7 485.2 296.9 485.2 298.1 485.2 299.3 485.2 300.5 485.2 301.7 485.3 302.9 485.3 304.1 485.3 305.3 485.3 306.5 485.3 307.7 485.3 308.9 485.4 310.1 485.4 311.3 485.4 312.5 485.4 313.7 485.4 314.9 485.4 316.1 485.5 317.3 485.5 318.5 485.5 319.7 485.5 320.9 485.5 322.1 485.6 323.3 485.6 324.5 485.6 325.7 485.6 326.9 485.6 328.1 485.7 329.3 485.7 330.5 485.7 331.7 485.7 332.9 485.8 334.1 485.8 335.3 485.8 336.5 485.8 337.7 485.8 338.8 485.9 340 485.9 341.2 485.9 342.4 485.9 343.6 486 344.8 486 346 486 347.2 486 348.4 486.1 349.6 486.1 350.8 486.1 352 486.1 353.2 486.2 354.4 486.2 355.6 486.2 356.8 486.2 358 486.3 359.2 486.3 360.4 486.3 361.6 486.3 362.8 486.4 364 486.4 365.2 486.4 366.4 486.4 367.6 486.5 368.8 486.5 370 486.5" stroke="#ff0000" clip-path="url(#clc)"/>
<path d="M78.1 578.6 79.3 578.5 80.5 578.4 81.6 578.4 82.8 578.4 84 578.5 85.3 578.6 86.5 578.6 87.8 578.7 89 578.7 90.2 578.6 91.4 578.4 92.5 578 93.4 577.4 94.2 576.7 94.8 575.8 95.4 574.7 95.9 573.6 96.3 572.5 96.7 571.3 97.2 570.2 97.6 569.1 98.1 568 98.5 566.8 98.9 565.7 99.3 564.6 99.8 563.5 100.2 562.4 100.6 561.3 101.1 560.1 101.5 559 101.9 557.9 102.4 556.8 102.8 555.7 103.3 554.6 103.7 553.5 104.2 552.4 104.6 551.3 105.1 550.2 105.6 549.1 106.1 548 106.6 546.9 107.1 545.8 107.6 544.7 108.1 543.6 108.6 542.5 109.1 541.4 109.7 540.4 110.2 539.3 110.8 538.2 111.4 537.2 112 536.1 112.6 535.1 113.2 534.1 113.8 533 114.4 532 115.1 531 115.7 530 116.4 529 117.1 528.1 117.8 527.1 118.5 526.1 119.3 525.2 120 524.3 120.8 523.4 121.6 522.5 122.4 521.6 123.2 520.7 124 519.9 124.9 519 125.7 518.2 126.6 517.4 127.5 516.6 128.4 515.8 129.4 515.1 130.3 514.3 131.3 513.6 132.2 512.9 133.2 512.1 134.2 511.4 135.1 510.7 136.1 510 137.1 509.3 138.1 508.6 139.1 507.9 140.1 507.2 141.1 506.6 142.1 506 143.1 505.4 144.2 504.9 145.3 504.3 146.3 503.9 147.4 503.4 148.5 502.9 149.7 502.5 150.8 502.1 151.9 501.8 153.1 501.4 154.2 501.1 155.4 500.7 156.5 500.4 157.7 500.1 158.9 499.8 160 499.5 161.2 499.3 162.4 499 163.5 498.7 164.7 498.5 165.9 498.2 167.1 498 168.2 497.7 169.4 497.5 170.6 497.2 171.8 497 173 496.8 174.1 496.5 175.3 496.3 176.5 496.1 177.7 495.9 178.9 495.7 180 495.4 181.2 495.2 182.4 495 183.6 494.8 184.8 494.6 186 494.4 187.1 494.2 188.3 494.1 189.5 493.9 190.7 493.7 191.9 493.5 193.1 493.3 194.2 493.1 195.4 493 196.6 492.8 197.8 492.6 199 492.4 200.2 492.3 201.4 492.1 202.6 491.9 203.7 491.8 204.9 491.6 206.1 491.5 207.3 491.3 208.5 491.1 209.7 491 210.9 490.8 212.1 490.7 213.2 490.5 214.4 490.4 215.6 490.2 216.8 490.1 218 489.9 219.2 489.8 220.4 489.7 221.6 489.5 222.8 489.4 224 489.2 225.1 489.1 226.3 489 227.5 488.8 228.7 488.7 229.9 488.6 231.1 488.5 232.3 488.3 233.5 488.2 234.7 488.1 235.9 488 237.1 487.8 238.3 487.7 239.5 487.6 240.6 487.5 241.8 487.4 243 487.2 244.2 487.1 245.4 487 246.6 486.9 247.8 486.8 249 486.7 250.2 486.6 251.4 486.5 252.6 486.4 253.8 486.3 255 486.2 256.2 486.1 257.4 486 258.6 485.9 259.8 485.8 260.9 485.7 262.1 485.6 263.3 485.5 264.5 485.4 265.7 485.3 266.9 485.2 268.1 485.1 269.3 485.1 270.5 485 271.7 484.9 272.9 484.8 274.1 484.7 275.3 484.7 276.5 484.6 277.7 484.5 278.9 484.4 280.1 484.4 281.3 484.3 282.5 484.2 283.7 484.1 284.9 484.1 286.1 484 287.3 483.9 288.5 483.9 289.7 483.8 290.9 483.8 292.1 483.7 293.3 483.6 294.5 483.6 295.7 483.5 296.9 483.5 298.1 483.4 299.3 483.3 300.5 483.3 301.7 483.2 302.9 483.2 304 483.1 305.2 483.1 306.4 483.1 307.6 483 308.8 483 310 482.9 311.2 482.9 312.4 482.8 313.6 482.8 314.8 482.8 316 482.7 317.2 482.7 318.4 482.6 319.6 482.6 320.8 482.6 322 482.5 323.2 482.5 324.4 482.5 325.6 482.5 326.8 482.4 328 482.4 329.2 482.4 330.4 482.4 331.6 482.3 332.8 482.3 334 482.3 335.2 482.3 336.4 482.3 337.6 482.2 338.8 482.2 340 482.2 341.2 482.2 342.4 482.2 343.6 482.2 344.8 482.2 346 482.1 347.2 482.1 348.4 482.1 349.6 482.1 350.8 482.1 352 482.1 353.2 482.1 354.4 482.1 355.6 482.1 356.8 482.1 358 482.1 359.2 482.1 360.4 482.1 361.6 482.1 362.8 482.1 364 482.1 365.2 482.1 366.4 482.1 367.6 482.1 368.8 482.1 370 482.1" stroke="#ff9900" clip-path="url(#clc)"/>
<path d="M78.2 578.6 79.4 578.4 80.5 578.4 81.7 578.5 83 578.6 84.3 578.7 85.5 578.7 86.7 578.5 87.7 578.1 88.5 577.3 89.1 576.4 89.5 575.3 89.9 574.2 90.3 573 90.7 571.9 91 570.7 91.2 569.5 91.5 568.4 91.7 567.2 91.9 566 92 564.8 92.2 563.6 92.3 562.4 92.4 561.2 92.5 560 92.6 558.8 92.7 557.6 92.8 556.4 92.9 555.2 93.1 554 93.2 552.9 93.3 551.7 93.5 550.5 93.6 549.3 93.8 548.1 94 547 94.2 545.8 94.5 544.6 94.7 543.4 94.9 542.3 95.2 541.1 95.4 539.9 95.7 538.7 95.9 537.6 96.2 536.4 96.4 535.2 96.7 534 96.9 532.9 97.1 531.7 97.4 530.5 97.6 529.3 97.8 528.2 98.1 527 98.3 525.8 98.5 524.6 98.7 523.5 99 522.3 99.2 521.1 99.4 519.9 99.6 518.8 99.9 517.6 100.1 516.4 100.3 515.2 100.6 514.1 100.8 512.9 101 511.7 101.2 510.5 101.5 509.4 101.7 508.2 102 507 102.2 505.9 102.5 504.7 102.7 503.5 103 502.3 103.2 501.2 103.5 500 103.7 498.8 104 497.7 104.3 496.5 104.5 495.3 104.8 494.2 105.1 493 105.4 491.9 105.7 490.7 106 489.5 106.3 488.4 106.6 487.2 106.9 486.1 107.3 484.9 107.6 483.8 107.9 482.6 108.3 481.4 108.6 480.3 109 479.2 109.3 478 109.7 476.9 110.1 475.7 110.5 474.6 110.9 473.5 111.3 472.3 111.7 471.2 112.1 470.1 112.6 469 113 467.9 113.5 466.7 113.9 465.6 114.4 464.5 114.9 463.4 115.4 462.3 115.9 461.3 116.4 460.2 116.9 459.1 117.4 458 118 457 118.5 455.9 119.1 454.9 119.7 453.8 120.3 452.8 120.9 451.8 121.5 450.7 122.1 449.7 122.7 448.7 123.4 447.7 124.1 446.7 124.7 445.7 125.4 444.8 126.1 443.8 126.8 442.8 127.6 441.9 128.3 440.9 129.1 440 129.9 439.1 130.6 438.2 131.4 437.3 132.3 436.4 133.1 435.5 133.9 434.7 134.8 433.8 135.7 433 136.5 432.2 137.4 431.4 138.4 430.6 139.3 429.9 140.2 429.1 141.2 428.4 142.1 427.7 143.1 427 144.1 426.4 145.1 425.8 146.2 425.2 147.2 424.6 148.2 424 149.3 423.5 150.4 423 151.5 422.5 152.6 422 153.7 421.6 154.8 421.1 155.9 420.7 157 420.3 158.2 419.9 159.3 419.5 160.5 419.2 161.6 418.8 162.8 418.5 163.9 418.2 165.1 417.8 166.3 417.5 167.4 417.2 168.6 416.9 169.8 416.6 170.9 416.4 172.1 416.1 173.3 415.8 174.5 415.5 175.6 415.3 176.8 415 178 414.8 179.2 414.5 180.3 414.3 181.5 414 182.7 413.8 183.8 413.6 185 413.3 186.2 413.1 187.4 412.9 188.5 412.7 189.7 412.5 190.9 412.3 192.1 412.1 193.2 411.9 194.4 411.7 195.6 411.5 196.8 411.3 197.9 411.1 199.1 410.9 200.3 410.7 201.5 410.5 202.7 410.3 203.8 410.2 205 410 206.2 409.8 207.4 409.6 208.6 409.5 209.7 409.3 210.9 409.1 212.1 408.9 213.3 408.8 214.5 408.6 215.7 408.4 216.9 408.3 218 408.1 219.2 407.9 220.4 407.8 221.6 407.6 222.8 407.5 224 407.3 225.2 407.1 226.4 407 227.6 406.8 228.7 406.7 229.9 406.5 231.1 406.4 232.3 406.2 233.5 406.1 234.7 406 235.9 405.9 237.1 405.7 238.3 405.6 239.5 405.5 240.7 405.4 241.9 405.3 243.1 405.2 244.3 405.1 245.5 405.1 246.7 405 247.9 404.9 249.1 404.9 250.2 404.8 251.4 404.8 252.6 404.8 253.8 404.7 255 404.7 256.2 404.7 257.4 404.7 258.6 404.7 259.8 404.7 261 404.6 262.2 404.6 263.4 404.6 264.6 404.7 265.8 404.7 267 404.7 268.2 404.7 269.4 404.7 270.6 404.7 271.8 404.7 273 404.7 274.2 404.7 275.4 404.7 276.6 404.7 277.8 404.8 279 404.8 280.2 404.8 281.4 404.8 282.6 404.8 283.8 404.8 285 404.8 286.2 404.9 287.4 404.9 288.6 404.9 289.7 404.9 290.9 404.9 292.1 404.9 293.3 405 294.5 405 295.7 405 296.9 405 298.1 405 299.3 405 300.5 405.1 301.7 405.1 302.9 405.1 304.1 405.1 305.3 405.1 306.5 405.1 307.7 405.2 308.9 405.2 310.1 405.2 311.3 405.2 312.5 405.2 313.7 405.2 314.9 405.3 316.1 405.3 317.3 405.3 318.5 405.3 319.7 405.3 320.9 405.3 322.1 405.3 323.3 405.3 324.5 405.4 325.7 405.4 326.9 405.4 328.1 405.4 329.3 405.4 330.5 405.4 331.7 405.4 332.9 405.4 334.1 405.4 335.3 405.4 336.5 405.5 337.7 405.5 338.9 405.5 340.1 405.5 341.3 405.5 342.5 405.5 343.7 405.5 344.9 405.5 346.1 405.5 347.2 405.5 348.4 405.5 349.6 405.5 350.8 405.5 352 405.4 353.2 405.4 354.4 405.4 355.6 405.4 356.8 405.4 358 405.4 359.2 405.4 360.4 405.4 361.6 405.4 362.8 405.3 364 405.3 365.2 405.3 366.4 405.3 367.6 405.3 368.8 405.2 370 405.2" stroke="#00ff00" clip-path="url(#clc)"/>
<path d="M78.6 578.3 80.1 578.7 81.4 578.7 82.5 578.5 83.6 578.1 84.5 577.6 85.3 576.8 86 575.9 86.6 574.9 87 573.9 87.4 572.7 87.8 571.5 88.1 570.3 88.3 569.1 88.6 567.9 88.8 566.7 89 565.5 89.2 564.4 89.4 563.2 89.5 562 89.7 560.8 89.8 559.6 90 558.5 90.1 557.3 90.2 556.1 90.3 554.9 90.4 553.7 90.5 552.6 90.7 551.4 90.8 550.2 90.9 549 91 547.8 91.1 546.6 91.2 545.4 91.3 544.2 91.4 543 91.5 541.8 91.6 540.6 91.7 539.4 91.8 538.2 91.9 537 92 535.8 92.1 534.6 92.2 533.4 92.3 532.2 92.4 531 92.5 529.8 92.6 528.6 92.7 527.4 92.8 526.2 92.9 525 93 523.8 93.2 522.6 93.3 521.4 93.4 520.3 93.5 519.1 93.6 517.9 93.7 516.7 93.9 515.5 94 514.3 94.1 513.1 94.2 511.9 94.4 510.7 94.5 509.5 94.6 508.3 94.7 507.2 94.9 506 95 504.8 95.1 503.6 95.3 502.4 95.4 501.2 95.5 500 95.7 498.8 95.8 497.7 96 496.5 96.1 495.3 96.2 494.1 96.4 492.9 96.5 491.7 96.7 490.5 96.8 489.4 96.9 488.2 97.1 487 97.2 485.8 97.4 484.6 97.5 483.4 97.6 482.2 97.8 481.1 97.9 479.9 98.1 478.7 98.2 477.5 98.4 476.3 98.5 475.1 98.6 473.9 98.8 472.7 98.9 471.5 99.1 470.4 99.2 469.2 99.4 468 99.5 466.8 99.6 465.6 99.8 464.4 99.9 463.2 100.1 462 100.2 460.8 100.4 459.6 100.5 458.4 100.6 457.2 100.8 456 100.9 454.8 101.1 453.6 101.2 452.4 101.4 451.2 101.6 450 101.7 448.8 101.9 447.7 102 446.5 102.2 445.3 102.4 444.1 102.5 442.9 102.7 441.7 102.9 440.5 103.1 439.3 103.3 438.1 103.5 437 103.7 435.8 103.9 434.6 104.1 433.4 104.3 432.2 104.5 431 104.7 429.9 104.9 428.7 105.2 427.5 105.4 426.4 105.7 425.2 105.9 424 106.2 422.9 106.4 421.7 106.7 420.5 107 419.4 107.2 418.2 107.5 417.1 107.8 415.9 108.1 414.8 108.4 413.6 108.8 412.5 109.1 411.3 109.4 410.2 109.8 409.1 110.1 408 110.5 406.8 110.9 405.7 111.3 404.6 111.7 403.5 112.1 402.3 112.6 401.2 113.1 400.1 113.6 399 114.1 397.9 114.7 396.8 115.3 395.7 115.9 394.6 116.5 393.6 117.2 392.5 117.9 391.6 118.7 390.6 119.5 389.7 120.3 388.9 121.2 388.2 122.2 387.6 123.1 387 124.2 386.5 125.2 386.2 126.4 385.9 127.5 385.8 128.7 385.7 129.9 385.6 131.1 385.7 132.3 385.8 133.6 386 134.8 386.2 136 386.5 137.2 386.8 138.4 387.1 139.6 387.5 140.7 387.9 141.8 388.3 142.9 388.7 144 389.2 145.1 389.7 146.2 390.1 147.2 390.6 148.3 391.1 149.4 391.6 150.4 392.1 151.5 392.6 152.6 393 153.7 393.5 154.8 394 155.9 394.4 157 394.9 158.1 395.4 159.2 395.8 160.4 396.2 161.5 396.7 162.6 397.1 163.7 397.5 164.9 397.9 166 398.4 167.2 398.8 168.3 399.2 169.5 399.6 170.6 399.9 171.8 400.3 172.9 400.7 174.1 401.1 175.2 401.4 176.4 401.8 177.5 402.1 178.7 402.5 179.8 402.8 181 403.1 182.1 403.5 183.2 403.8 184.4 404.1 185.5 404.5 186.6 404.8 187.8 405.2 188.9 405.6 190 405.9 191.1 406.3 192.2 406.8 193.4 407.2 194.5 407.7 195.6 408.1 196.6 408.6 197.7 409.1 198.8 409.6 199.9 410.1 201 410.7 202.1 411.2 203.2 411.7 204.3 412.2 205.4 412.7 206.5 413.2 207.6 413.7 208.7 414.2 209.8 414.6 210.9 415.1 212 415.6 213.1 416 214.2 416.5 215.3 416.9 216.4 417.4 217.5 417.8 218.7 418.2 219.8 418.7 220.9 419.1 222 419.5 223.1 420 224.2 420.4 225.3 420.9 226.4 421.3 227.6 421.8 228.7 422.2 229.8 422.7 230.9 423.1 232 423.6 233.1 424.1 234.2 424.6 235.2 425 236.3 425.5 237.4 426 238.5 426.5 239.6 427 240.7 427.6 241.8 428.1 242.8 428.6 243.9 429.1 245 429.6 246.1 430.1 247.2 430.7 248.2 431.2 249.3 431.7 250.4 432.2 251.5 432.8 252.6 433.3 253.6 433.8 254.7 434.3 255.8 434.8 256.9 435.4 258 435.9 259.1 436.4 260.1 436.9 261.2 437.4 262.3 437.9 263.4 438.4 264.5 438.8 265.6 439.3 266.7 439.8 267.8 440.3 268.9 440.7 270 441.2 271.2 441.6 272.3 442.1 273.4 442.5 274.5 442.9 275.6 443.3 276.8 443.8 277.9 444.2 279 444.5 280.1 444.9 281.3 445.3 282.4 445.7 283.6 446 284.7 446.4 285.9 446.7 287 447 288.2 447.3 289.3 447.6 290.5 447.9 291.6 448.2 292.8 448.5 294 448.7 295.1 449 296.3 449.3 297.5 449.5 298.7 449.8 299.8 450.1 301 450.3 302.2 450.6 303.3 450.8 304.5 451.1 305.7 451.3 306.9 451.6 308 451.9 309.2 452.2 310.4 452.4 311.5 452.7 312.7 453 313.8 453.3 315 453.7 316.1 454 317.3 454.3 318.4 454.7 319.6 455 320.7 455.3 321.9 455.7 323 456 324.2 456.4 325.3 456.8 326.5 457.1 327.6 457.5 328.8 457.8 329.9 458.2 331 458.5 332.2 458.8 333.3 459.2 334.5 459.5 335.6 459.8 336.8 460.1 338 460.4 339.1 460.7 340.3 461 341.5 461.2 342.6 461.5 343.8 461.7 345 462 346.2 462.2 347.3 462.4 348.5 462.6 349.7 462.7 350.9 462.9 352.1 463.1 353.3 463.2 354.5 463.4 355.7 463.5 356.9 463.6 358.1 463.7 359.2 463.8 360.4 463.9 361.6 464 362.8 464.1 364 464.2 365.2 464.3 366.4 464.3 367.6 464.4 368.8 464.5 370 464.5" stroke="#0000ff" clip-path="url(#clc)"/>
</g>
<g stroke="#000" stroke-width="1.5" fill="none" stroke-linecap="butt">
<rect x="472.4" y="338.85" width="291.55" height="240" stroke-linejoin="miter"/>
<path d="M479.69 578.85L479.69 576.15M479.69 338.85L479.69 341.55M486.98 578.85L486.98 576.15M486.98 338.85L486.98 341.55M494.27 578.85L494.27 576.15M494.27 338.85L494.27 341.55M501.56 578.85L501.56 576.15M501.56 338.85L501.56 341.55M508.84 578.85L508.84 576.15M508.84 338.85L508.84 341.55M516.13 578.85L516.13 576.15M516.13 338.85L516.13 341.55M523.42 578.85L523.42 576.15M523.42 338.85L523.42 341.55M530.71 578.85L530.71 576.15M530.71 338.85L530.71 341.55M538 578.85L538 576.15M538 338.85L538 341.55M545.29 578.85L545.29 573.95M545.29 338.85L545.29 343.75M552.58 578.85L552.58 576.15M552.58 338.85L552.58 341.55M559.87 578.85L559.87 576.15M559.87 338.85L559.87 341.55M567.15 578.85L567.15 576.15M567.15 338.85L567.15 341.55M574.44 578.85L574.44 576.15M574.44 338.85L574.44 341.55M581.73 578.85L581.73 576.15M581.73 338.85L581.73 341.55M589.02 578.85L589.02 576.15M589.02 338.85L589.02 341.55M596.31 578.85L596.31 576.15M596.31 338.85L596.31 341.55M603.6 578.85L603.6 576.15M603.6 338.85L603.6 341.55M610.89 578.85L610.89 576.15M610.89 338.85L610.89 341.55M618.17 578.85L618.17 573.95M618.17 338.85L618.17 343.75M625.46 578.85L625.46 576.15M625.46 338.85L625.46 341.55M632.75 578.85L632.75 576.15M632.75 338.85L632.75 341.55M640.04 578.85L640.04 576.15M640.04 338.85L640.04 341.55M647.33 578.85L647.33 576.15M647.33 338.85L647.33 341.55M654.62 578.85L654.62 576.15M654.62 338.85L654.62 341.55M661.91 578.85L661.91 576.15M661.91 338.85L661.91 341.55M669.2 578.85L669.2 576.15M669.2 338.85L669.2 341.55M676.49 578.85L676.49 576.15M676.49 338.85L676.49 341.55M683.77 578.85L683.77 576.15M683.77 338.85L683.77 341.55M691.06 578.85L691.06 573.95M691.06 338.85L691.06 343.75M698.35 578.85L698.35 576.15M698.35 338.85L698.35 341.55M705.64 578.85L705.64 576.15M705.64 338.85L705.64 341.55M712.93 578.85L712.93 576.15M712.93 338.85L712.93 341.55M720.22 578.85L720.22 576.15M720.22 338.85L720.22 341.55M727.51 578.85L727.51 576.15M727.51 338.85L727.51 341.55M734.8 578.85L734.8 576.15M734.8 338.85L734.8 341.55M742.08 578.85L742.08 576.15M742.08 338.85L742.08 341.55M749.37 578.85L749.37 576.15M749.37 338.85L749.37 341.55M756.66 578.85L756.66 576.15M756.66 338.85L756.66 341.55M472.4 458.85L477.9 458.85M763.95 458.85L758.45 458.85M472.4 542.73L475.2 542.73M763.95 542.73L761.15 542.73M472.4 521.6L475.2 521.6M763.95 521.6L761.15 521.6M472.4 506.6L475.2 506.6M763.95 506.6L761.15 506.6M472.4 494.97L475.2 494.97M763.95 494.97L761.15 494.97M472.4 485.47L475.2 485.47M763.95 485.47L761.15 485.47M472.4 477.44L475.2 477.44M763.95 477.44L761.15 477.44M472.4 470.48L475.2 470.48M763.95 470.48L761.15 470.48M472.4 464.34L475.2 464.34M763.95 464.34L761.15 464.34M472.4 422.73L475.2 422.73M763.95 422.73L761.15 422.73M472.4 401.6L475.2 401.6M763.95 401.6L761.15 401.6M472.4 386.6L475.2 386.6M763.95 386.6L761.15 386.6M472.4 374.97L475.2 374.97M763.95 374.97L761.15 374.97M472.4 365.47L475.2 365.47M763.95 365.47L761.15 365.47M472.4 357.44L475.2 357.44M763.95 357.44L761.15 357.44M472.4 350.48L475.2 350.48M763.95 350.48L761.15 350.48M472.4 344.34L475.2 344.34M763.95 344.34L761.15 344.34"/>
</g>
<g fill="none" stroke-width="1.5" stroke-linejoin="round" stroke-linecap="butt">
<path d="M499.4 320 499.5 321.2 499.7 322.4 499.8 323.6 500 324.8 500.1 326 500.3 327.2 500.4 328.4 500.6 329.6 500.7 330.8 500.8 332 501 333.2 501.1 334.4 501.3 335.6 501.4 336.8 501.5 338 501.7 339.1 501.8 340.3 501.9 341.5 502.1 342.7 502.2 343.9 502.4 345.1 502.5 346.3 502.6 347.5 502.8 348.7 502.9 349.9 503 351.1 503.2 352.2 503.3 353.4 503.5 354.6 503.6 355.8 503.7 357 503.9 358.2 504 359.4 504.2 360.5 504.3 361.7 504.5 362.9 504.6 364.1 504.8 365.3 505 366.5 505.1 367.6 505.3 368.8 505.5 370 505.6 371.2 505.8 372.4 506 373.5 506.1 374.7 506.3 375.9 506.5 377.1 506.7 378.3 506.9 379.4 507.1 380.6 507.3 381.8 507.5 383 507.7 384.1 507.9 385.3 508.1 386.5 508.3 387.7 508.5 388.8 508.7 390 509 391.2 509.2 392.3 509.4 393.5 509.7 394.7 509.9 395.9 510.2 397 510.4 398.2 510.7 399.4 511 400.5 511.2 401.7 511.5 402.9 511.8 404.1 512.1 405.2 512.4 406.4 512.7 407.6 513 408.7 513.3 409.9 513.6 411.1 514 412.2 514.3 413.4 514.6 414.6 515 415.7 515.3 416.9 515.7 418.1 516.1 419.2 516.4 420.4 516.8 421.5 517.2 422.7 517.6 423.8 518.1 425 518.5 426.1 518.9 427.2 519.4 428.4 519.8 429.5 520.3 430.6 520.8 431.7 521.3 432.8 521.8 433.9 522.3 434.9 522.9 436 523.4 437.1 524 438.1 524.6 439.2 525.2 440.2 525.8 441.2 526.4 442.2 527.1 443.2 527.7 444.2 528.4 445.1 529.1 446.1 529.8 447 530.6 447.9 531.3 448.8 532.1 449.7 532.9 450.6 533.7 451.4 534.5 452.3 535.4 453.1 536.2 453.9 537.1 454.7 538 455.4 539 456.2 539.9 456.9 540.9 457.6 541.9 458.3 542.9 459 543.9 459.6 544.9 460.3 545.9 460.9 547 461.5 548.1 462.1 549.1 462.6 550.2 463.2 551.3 463.7 552.4 464.2 553.5 464.7 554.7 465.1 555.8 465.6 556.9 466 558.1 466.4 559.2 466.8 560.3 467.1 561.5 467.5 562.6 467.8 563.8 468.1 565 468.4 566.1 468.7 567.3 469 568.5 469.3 569.6 469.6 570.8 469.8 572 470.1 573.1 470.4 574.3 470.6 575.5 470.8 576.7 471.1 577.8 471.3 579 471.5 580.2 471.8 581.4 472 582.5 472.2 583.7 472.5 584.9 472.7 586.1 472.9 587.2 473.1 588.4 473.3 589.6 473.5 590.8 473.8 592 474 593.1 474.2 594.3 474.4 595.5 474.6 596.7 474.8 597.9 475 599 475.2 600.2 475.4 601.4 475.6 602.6 475.8 603.8 476 604.9 476.2 606.1 476.4 607.3 476.5 608.5 476.7 609.7 476.9 610.9 477.1 612 477.3 613.2 477.5 614.4 477.6 615.6 477.8 616.8 478 618 478.2 619.1 478.3 620.3 478.5 621.5 478.7 622.7 478.8 623.9 479 625.1 479.2 626.3 479.3 627.5 479.5 628.6 479.7 629.8 479.8 631 480 632.2 480.1 633.4 480.3 634.6 480.4 635.8 480.6 637 480.7 638.1 480.9 639.3 481 640.5 481.2 641.7 481.3 642.9 481.5 644.1 481.6 645.3 481.8 646.5 481.9 647.7 482.1 648.9 482.2 650 482.3 651.2 482.5 652.4 482.6 653.6 482.8 654.8 482.9 656 483 657.2 483.2 658.4 483.3 659.6 483.4 660.8 483.6 662 483.7 663.2 483.8 664.4 484 665.5 484.1 666.7 484.2 667.9 484.3 669.1 484.5 670.3 484.6 671.5 484.7 672.7 484.9 673.9 485 675.1 485.1 676.3 485.2 677.5 485.3 678.7 485.5 679.9 485.6 681.1 485.7 682.3 485.8 683.4 486 684.6 486.1 685.8 486.2 687 486.3 688.2 486.4 689.4 486.5 690.6 486.7 691.8 486.8 693 486.9 694.2 487 695.4 487.1 696.6 487.2 697.8 487.4 699 487.5 700.2 487.6 701.4 487.7 702.6 487.8 703.7 487.9 704.9 488.1 706.1 488.2 707.3 488.3 708.5 488.4 709.7 488.5 710.9 488.6 712.1 488.7 713.3 488.9 714.5 489 715.7 489.1 716.9 489.2 718.1 489.3 719.3 489.4 720.5 489.5 721.7 489.7 722.9 489.8 724 489.9 725.2 490 726.4 490.1 727.6 490.2 728.8 490.3 730 490.5 731.2 490.6 732.4 490.7 733.6 490.8 734.8 490.9 736 491 737.2 491.2 738.4 491.3 739.6 491.4 740.8 491.5 741.9 491.6 743.1 491.8 744.3 491.9 745.5 492 746.7 492.1 747.9 492.2 749.1 492.4 750.3 492.5 751.5 492.6 752.7 492.7 753.9 492.9 755.1 493 756.2 493.1 757.4 493.2 758.6 493.4 759.8 493.5 761 493.6 762.2 493.7 763.4 493.9" stroke="#ff0000" clip-path="url(#cld)"/>
<path d="M503.5 320 503.7 321.2 503.9 322.4 504.1 323.5 504.3 324.7 504.5 325.9 504.7 327.1 504.9 328.3 505.1 329.4 505.3 330.6 505.5 331.8 505.7 333 505.9 334.2 506.1 335.3 506.3 336.5 506.5 337.7 506.8 338.9 507 340.1 507.2 341.2 507.4 342.4 507.7 343.6 507.9 344.8 508.1 345.9 508.4 347.1 508.6 348.3 508.9 349.5 509.1 350.6 509.4 351.8 509.7 353 509.9 354.1 510.2 355.3 510.5 356.5 510.7 357.6 511 358.8 511.3 360 511.6 361.1 511.9 362.3 512.2 363.4 512.5 364.6 512.8 365.8 513.1 366.9 513.4 368.1 513.7 369.2 514 370.4 514.3 371.5 514.7 372.7 515 373.8 515.3 375 515.7 376.1 516 377.3 516.4 378.4 516.7 379.6 517.1 380.7 517.4 381.8 517.8 383 518.2 384.1 518.6 385.2 519 386.4 519.3 387.5 519.7 388.6 520.1 389.7 520.6 390.9 521 392 521.4 393.1 521.8 394.2 522.2 395.3 522.7 396.5 523.1 397.6 523.6 398.7 524 399.8 524.5 400.9 525 402 525.4 403.1 525.9 404.2 526.4 405.3 526.9 406.4 527.4 407.5 527.9 408.5 528.4 409.6 528.9 410.7 529.4 411.8 530 412.9 530.5 413.9 531 415 531.6 416.1 532.1 417.1 532.7 418.2 533.3 419.3 533.9 420.3 534.4 421.4 535 422.4 535.6 423.5 536.2 424.5 536.8 425.5 537.5 426.5 538.1 427.6 538.7 428.6 539.4 429.6 540 430.6 540.7 431.6 541.3 432.6 542 433.6 542.7 434.6 543.4 435.6 544.1 436.6 544.7 437.5 545.5 438.5 546.2 439.5 546.9 440.4 547.6 441.4 548.4 442.3 549.1 443.2 549.9 444.2 550.6 445.1 551.4 446 552.2 446.9 553 447.8 553.8 448.7 554.6 449.5 555.5 450.3 556.3 451.1 557.2 451.9 558.2 452.6 559.1 453.3 560.1 453.9 561.2 454.5 562.2 455.1 563.3 455.7 564.3 456.2 565.4 456.7 566.5 457.2 567.7 457.7 568.8 458.2 569.9 458.7 571 459.2 572.1 459.7 573.2 460.1 574.3 460.6 575.4 461.1 576.5 461.6 577.6 462 578.7 462.5 579.8 463 580.9 463.4 582 463.9 583.1 464.4 584.2 464.9 585.3 465.3 586.4 465.8 587.5 466.2 588.6 466.7 589.7 467.2 590.8 467.6 591.9 468.1 593 468.6 594.1 469 595.2 469.5 596.3 469.9 597.4 470.4 598.5 470.8 599.6 471.3 600.7 471.7 601.8 472.2 602.9 472.6 604.1 473.1 605.2 473.5 606.3 474 607.4 474.4 608.5 474.8 609.6 475.3 610.8 475.7 611.9 476.1 613 476.5 614.1 476.9 615.3 477.4 616.4 477.8 617.5 478.2 618.6 478.6 619.8 479 620.9 479.3 622 479.7 623.2 480.1 624.3 480.5 625.4 480.9 626.6 481.2 627.7 481.6 628.9 481.9 630 482.3 631.2 482.6 632.3 483 633.5 483.3 634.6 483.6 635.8 483.9 636.9 484.3 638.1 484.6 639.2 484.9 640.4 485.2 641.5 485.5 642.7 485.7 643.9 486 645 486.3 646.2 486.6 647.3 486.9 648.5 487.1 649.7 487.4 650.8 487.6 652 487.9 653.2 488.1 654.4 488.4 655.5 488.6 656.7 488.9 657.9 489.1 659 489.3 660.2 489.6 661.4 489.8 662.6 490 663.8 490.2 664.9 490.4 666.1 490.7 667.3 490.9 668.5 491.1 669.6 491.3 670.8 491.5 672 491.7 673.2 491.9 674.4 492.1 675.5 492.3 676.7 492.5 677.9 492.7 679.1 492.9 680.3 493.1 681.5 493.2 682.6 493.4 683.8 493.6 685 493.8 686.2 494 687.4 494.2 688.6 494.3 689.7 494.5 690.9 494.7 692.1 494.9 693.3 495.1 694.5 495.2 695.7 495.4 696.8 495.6 698 495.7 699.2 495.9 700.4 496.1 701.6 496.2 702.8 496.4 704 496.6 705.1 496.7 706.3 496.9 707.5 497 708.7 497.2 709.9 497.4 711.1 497.5 712.3 497.7 713.5 497.8 714.6 498 715.8 498.1 717 498.3 718.2 498.4 719.4 498.6 720.6 498.7 721.8 498.9 723 499 724.2 499.2 725.3 499.3 726.5 499.5 727.7 499.6 728.9 499.7 730.1 499.9 731.3 500 732.5 500.2 733.7 500.3 734.9 500.4 736 500.6 737.2 500.7 738.4 500.9 739.6 501 740.8 501.1 742 501.3 743.2 501.4 744.4 501.5 745.6 501.7 746.7 501.8 747.9 501.9 749.1 502.1 750.3 502.2 751.5 502.4 752.7 502.5 753.9 502.6 755.1 502.8 756.3 502.9 757.5 503 758.6 503.1 759.8 503.3 761 503.4 762.2 503.5 763.4 503.7" stroke="#ff9900" clip-path="url(#cld)"/>
<path d="M498 320 498.1 321.2 498.3 322.4 498.5 323.6 498.6 324.7 498.8 325.9 499 327.1 499.1 328.3 499.3 329.5 499.4 330.7 499.6 331.9 499.7 333.1 499.9 334.2 500 335.4 500.1 336.6 500.3 337.8 500.4 339 500.6 340.2 500.7 341.4 500.9 342.6 501 343.8 501.2 345 501.3 346.2 501.5 347.4 501.6 348.6 501.8 349.8 502 351 502.1 352.2 502.3 353.4 502.4 354.6 502.6 355.7 502.8 356.9 503 358.1 503.1 359.3 503.3 360.5 503.5 361.7 503.7 362.8 503.9 364 504.1 365.2 504.3 366.4 504.5 367.5 504.8 368.7 505 369.9 505.2 371 505.4 372.2 505.6 373.4 505.9 374.5 506.1 375.7 506.3 376.9 506.6 378.1 506.8 379.2 507 380.4 507.3 381.6 507.5 382.8 507.7 383.9 507.9 385.1 508.2 386.3 508.4 387.5 508.6 388.7 508.9 389.9 509.1 391.1 509.4 392.3 509.7 393.4 510 394.6 510.3 395.8 510.7 396.9 511 398.1 511.4 399.2 511.9 400.3 512.3 401.4 512.8 402.5 513.3 403.6 513.9 404.7 514.5 405.7 515.2 406.7 515.9 407.7 516.6 408.6 517.4 409.5 518.2 410.4 519.1 411.2 520 411.9 521 412.5 522 413.1 523 413.6 524.1 414.1 525.3 414.4 526.4 414.8 527.6 415.1 528.8 415.4 530 415.7 531.2 416 532.4 416.2 533.5 416.5 534.7 416.8 535.9 417.1 537.1 417.4 538.3 417.6 539.4 417.9 540.6 418.2 541.8 418.5 542.9 418.8 544.1 419 545.3 419.3 546.4 419.6 547.6 419.9 548.7 420.1 549.9 420.4 551.1 420.7 552.2 420.9 553.4 421.2 554.6 421.5 555.7 421.7 556.9 422 558.1 422.2 559.2 422.5 560.4 422.7 561.6 422.9 562.8 423.2 563.9 423.4 565.1 423.6 566.3 423.9 567.5 424.1 568.6 424.3 569.8 424.5 571 424.7 572.2 425 573.4 425.2 574.5 425.4 575.7 425.6 576.9 425.8 578.1 426 579.3 426.2 580.4 426.4 581.6 426.6 582.8 426.8 584 426.9 585.2 427.1 586.4 427.3 587.6 427.5 588.8 427.7 589.9 427.8 591.1 428 592.3 428.2 593.5 428.3 594.7 428.5 595.9 428.7 597.1 428.8 598.3 429 599.4 429.1 600.6 429.3 601.8 429.5 603 429.6 604.2 429.7 605.4 429.9 606.6 430 607.8 430.2 609 430.3 610.2 430.5 611.4 430.6 612.5 430.7 613.7 430.9 614.9 431 616.1 431.1 617.3 431.2 618.5 431.4 619.7 431.5 620.9 431.6 622.1 431.7 623.3 431.8 624.5 431.9 625.7 432.1 626.9 432.2 628.1 432.3 629.3 432.4 630.4 432.5 631.6 432.6 632.8 432.7 634 432.8 635.2 432.9 636.4 433 637.6 433.1 638.8 433.2 640 433.3 641.2 433.4 642.4 433.5 643.6 433.6 644.8 433.6 646 433.7 647.2 433.8 648.4 433.9 649.6 434 650.8 434.1 652 434.2 653.2 434.2 654.4 434.3 655.6 434.4 656.8 434.5 658 434.5 659.2 434.6 660.4 434.7 661.5 434.8 662.7 434.8 663.9 434.9 665.1 435 666.3 435.1 667.5 435.1 668.7 435.2 669.9 435.3 671.1 435.3 672.3 435.4 673.5 435.5 674.7 435.5 675.9 435.6 677.1 435.6 678.3 435.7 679.5 435.8 680.7 435.8 681.9 435.9 683.1 436 684.3 436 685.5 436.1 686.7 436.1 687.9 436.2 689.1 436.2 690.3 436.3 691.5 436.4 692.7 436.4 693.9 436.5 695.1 436.5 696.3 436.6 697.5 436.6 698.7 436.7 699.9 436.8 701.1 436.8 702.3 436.9 703.5 436.9 704.7 437 705.9 437 707.1 437.1 708.3 437.1 709.5 437.2 710.7 437.2 711.9 437.3 713.1 437.4 714.3 437.4 715.5 437.5 716.7 437.5 717.9 437.6 719.1 437.6 720.3 437.7 721.5 437.8 722.7 437.8 723.9 437.9 725.1 437.9 726.3 438 727.5 438 728.7 438.1 729.9 438.2 731.1 438.2 732.3 438.3 733.5 438.3 734.7 438.4 735.9 438.5 737.1 438.5 738.3 438.6 739.5 438.7 740.7 438.7 741.8 438.8 743 438.8 744.2 438.9 745.4 439 746.6 439 747.8 439.1 749 439.2 750.2 439.3 751.4 439.3 752.6 439.4 753.8 439.5 755 439.5 756.2 439.6 757.4 439.7 758.6 439.8 759.8 439.9 761 439.9 762.2 440 763.4 440.1" stroke="#00ff00" clip-path="url(#cld)"/>
<path d="M500.5 320 500.6 321.2 500.7 322.4 500.8 323.6 500.9 324.8 501 325.9 501.1 327.1 501.2 328.3 501.3 329.5 501.4 330.7 501.6 331.9 501.7 333.1 501.9 334.3 502 335.5 502.2 336.7 502.3 337.9 502.5 339 502.7 340.2 502.8 341.4 503 342.6 503.2 343.8 503.4 345 503.6 346.2 503.8 347.4 504 348.6 504.2 349.7 504.4 350.9 504.6 352.1 504.8 353.3 505.1 354.5 505.3 355.6 505.5 356.8 505.7 358 506 359.2 506.2 360.3 506.4 361.5 506.7 362.7 506.9 363.8 507.1 365 507.4 366.1 507.6 367.3 507.8 368.5 508.1 369.6 508.3 370.8 508.6 371.9 508.8 373.1 509.1 374.3 509.4 375.4 509.6 376.6 509.9 377.7 510.2 378.9 510.4 380.1 510.7 381.3 511 382.4 511.3 383.6 511.6 384.8 511.9 386 512.2 387.2 512.6 388.4 513 389.5 513.4 390.7 513.8 391.8 514.3 392.9 514.9 393.9 515.5 394.9 516.2 395.9 516.9 396.8 517.7 397.7 518.5 398.4 519.4 399.1 520.4 399.8 521.4 400.3 522.5 400.8 523.6 401.1 524.8 401.5 526 401.8 527.2 402 528.4 402.2 529.6 402.4 530.8 402.6 532 402.7 533.2 402.9 534.4 403.1 535.6 403.3 536.8 403.5 538 403.7 539.1 403.9 540.3 404.1 541.5 404.3 542.6 404.5 543.8 404.7 545 404.9 546.2 405.1 547.3 405.3 548.5 405.5 549.7 405.7 550.9 406 552 406.2 553.2 406.4 554.4 406.6 555.6 406.8 556.8 407 557.9 407.2 559.1 407.4 560.3 407.6 561.5 407.9 562.6 408.1 563.8 408.3 565 408.6 566.2 408.8 567.3 409.1 568.5 409.4 569.7 409.6 570.8 409.9 572 410.2 573.2 410.4 574.3 410.7 575.5 411 576.7 411.3 577.8 411.6 579 411.9 580.1 412.2 581.3 412.5 582.4 412.8 583.6 413.1 584.8 413.5 585.9 413.8 587.1 414.1 588.2 414.4 589.4 414.8 590.5 415.1 591.7 415.4 592.8 415.8 594 416.1 595.1 416.4 596.3 416.8 597.4 417.1 598.6 417.5 599.7 417.8 600.9 418.2 602 418.5 603.1 418.9 604.3 419.2 605.4 419.6 606.6 419.9 607.7 420.3 608.9 420.6 610 421 611.2 421.3 612.3 421.7 613.4 422.1 614.6 422.4 615.7 422.8 616.9 423.1 618 423.5 619.1 423.9 620.3 424.2 621.4 424.6 622.6 425 623.7 425.3 624.8 425.7 626 426.1 627.1 426.4 628.3 426.8 629.4 427.2 630.5 427.6 631.7 427.9 632.8 428.3 634 428.7 635.1 429 636.2 429.4 637.4 429.8 638.5 430.2 639.6 430.5 640.8 430.9 641.9 431.3 643 431.7 644.2 432.1 645.3 432.4 646.5 432.8 647.6 433.2 648.7 433.6 649.9 434 651 434.3 652.1 434.7 653.3 435.1 654.4 435.5 655.5 435.9 656.7 436.2 657.8 436.6 658.9 437 660.1 437.4 661.2 437.8 662.3 438.2 663.5 438.6 664.6 438.9 665.7 439.3 666.9 439.7 668 440.1 669.1 440.5 670.3 440.9 671.4 441.3 672.5 441.6 673.7 442 674.8 442.4 675.9 442.8 677.1 443.2 678.2 443.6 679.3 444 680.5 444.3 681.6 444.7 682.7 445.1 683.9 445.5 685 445.9 686.1 446.3 687.3 446.7 688.4 447.1 689.6 447.4 690.7 447.8 691.8 448.2 693 448.6 694.1 449 695.2 449.3 696.4 449.7 697.5 450.1 698.6 450.5 699.8 450.9 700.9 451.2 702.1 451.6 703.2 452 704.3 452.3 705.5 452.7 706.6 453.1 707.8 453.4 708.9 453.8 710 454.1 711.2 454.5 712.3 454.8 713.5 455.2 714.6 455.5 715.8 455.9 716.9 456.2 718.1 456.5 719.2 456.8 720.4 457.2 721.5 457.5 722.7 457.8 723.8 458.1 725 458.4 726.2 458.7 727.3 459 728.5 459.3 729.6 459.6 730.8 459.9 732 460.2 733.1 460.5 734.3 460.8 735.5 461.1 736.6 461.3 737.8 461.6 739 461.9 740.1 462.2 741.3 462.4 742.4 462.7 743.6 463 744.8 463.3 745.9 463.5 747.1 463.8 748.3 464.1 749.4 464.4 750.6 464.6 751.8 464.9 752.9 465.2 754.1 465.5 755.3 465.8 756.4 466 757.6 466.3 758.8 466.6 759.9 466.9 761.1 467.2 762.2 467.5 763.4 467.8" stroke="#0000ff" clip-path="url(#cld)"/>
</g>
<g filter="url(#nf)">
<text transform="translate(78.55 282.6) scale(1.1 1)" text-anchor="middle" font-size="13" fill="#000" stroke="#000" stroke-width="0.28">0</text>
<text transform="translate(151.35 282.6) scale(1.1 1)" text-anchor="middle" font-size="13" fill="#000" stroke="#000" stroke-width="0.28">10</text>
<text transform="translate(224.15 282.6) scale(1.1 1)" text-anchor="middle" font-size="13" fill="#000" stroke="#000" stroke-width="0.28">20</text>
<text transform="translate(296.95 282.6) scale(1.1 1)" text-anchor="middle" font-size="13" fill="#000" stroke="#000" stroke-width="0.28">30</text>
<text transform="translate(369.75 282.6) scale(1.1 1)" text-anchor="middle" font-size="13" fill="#000" stroke="#000" stroke-width="0.28">40</text>
<text transform="translate(223.85 299.1) scale(1.13 1)" text-anchor="middle" font-size="13" fill="#000" stroke="#000" stroke-width="0.28" word-spacing="2.6">z [Mm]</text>
<text transform="translate(74.45 264) scale(1.1 1)" text-anchor="end" font-size="13" fill="#000" stroke="#000" stroke-width="0.28">0.1</text>
<text transform="translate(74.45 196.34) scale(1.1 1)" text-anchor="end" font-size="13" fill="#000" stroke="#000" stroke-width="0.28">1.0</text>
<text transform="translate(74.45 123.68) scale(1.1 1)" text-anchor="end" font-size="13" fill="#000" stroke="#000" stroke-width="0.28">10.0</text>
<text transform="translate(74.45 51.02) scale(1.1 1)" text-anchor="end" font-size="13" fill="#000" stroke="#000" stroke-width="0.28">100.0</text>
<text transform="translate(24.7 178.5) rotate(-90)" font-size="13" textLength="40.6" lengthAdjust="spacingAndGlyphs" stroke="#000" stroke-width="0.28">&lt;|B<tspan font-size="8.06" dy="2.86" stroke-width="0.42">z</tspan><tspan dy="-2.86">|&gt;</tspan></text>
<text transform="translate(24.7 129.8) rotate(-90)" font-size="13" textLength="19" lengthAdjust="spacingAndGlyphs" stroke="#000" stroke-width="0.28">[G]</text>
<text transform="translate(100.6 243) scale(1 1)" text-anchor="start" font-size="14" fill="#000" stroke="#000" stroke-width="0.2" letter-spacing="0.9">a)</text>
<text transform="translate(472.1 282.6) scale(1.1 1)" text-anchor="middle" font-size="13" fill="#000" stroke="#000" stroke-width="0.28">0</text>
<text transform="translate(544.99 282.6) scale(1.1 1)" text-anchor="middle" font-size="13" fill="#000" stroke="#000" stroke-width="0.28">10</text>
<text transform="translate(617.88 282.6) scale(1.1 1)" text-anchor="middle" font-size="13" fill="#000" stroke="#000" stroke-width="0.28">20</text>
<text transform="translate(690.76 282.6) scale(1.1 1)" text-anchor="middle" font-size="13" fill="#000" stroke="#000" stroke-width="0.28">30</text>
<text transform="translate(763.65 282.6) scale(1.1 1)" text-anchor="middle" font-size="13" fill="#000" stroke="#000" stroke-width="0.28">40</text>
<text transform="translate(617.57 299.1) scale(1.13 1)" text-anchor="middle" font-size="13" fill="#000" stroke="#000" stroke-width="0.28" word-spacing="2.6">z [Mm]</text>
<text transform="translate(468 264) scale(1.1 1)" text-anchor="end" font-size="13" fill="#000" stroke="#000" stroke-width="0.28">0</text>
<text transform="translate(468 189.05) scale(1.1 1)" text-anchor="end" font-size="13" fill="#000" stroke="#000" stroke-width="0.28">20</text>
<text transform="translate(468 109.1) scale(1.1 1)" text-anchor="end" font-size="13" fill="#000" stroke="#000" stroke-width="0.28">40</text>
<text transform="translate(468 32.95) scale(1.1 1)" text-anchor="end" font-size="13" fill="#000" stroke="#000" stroke-width="0.28">60</text>
<text transform="translate(441.4 182.4) rotate(-90)" font-size="13" textLength="22.6" lengthAdjust="spacingAndGlyphs" stroke="#000" stroke-width="0.28">v<tspan font-size="8.06" dy="2.86" stroke-width="0.42">rms</tspan></text>
<text transform="translate(441.4 152.9) rotate(-90)" font-size="13" textLength="46.9" lengthAdjust="spacingAndGlyphs" stroke="#000" stroke-width="0.28">[km/s]</text>
<text transform="translate(494.7 244.5) scale(1 1)" text-anchor="start" font-size="14" fill="#000" stroke="#000" stroke-width="0.2" letter-spacing="0.9">b)</text>
<text transform="translate(78.55 597.75) scale(1.1 1)" text-anchor="middle" font-size="13" fill="#000" stroke="#000" stroke-width="0.28">0</text>
<text transform="translate(151.35 597.75) scale(1.1 1)" text-anchor="middle" font-size="13" fill="#000" stroke="#000" stroke-width="0.28">10</text>
<text transform="translate(224.15 597.75) scale(1.1 1)" text-anchor="middle" font-size="13" fill="#000" stroke="#000" stroke-width="0.28">20</text>
<text transform="translate(296.95 597.75) scale(1.1 1)" text-anchor="middle" font-size="13" fill="#000" stroke="#000" stroke-width="0.28">30</text>
<text transform="translate(369.75 597.75) scale(1.1 1)" text-anchor="middle" font-size="13" fill="#000" stroke="#000" stroke-width="0.28">40</text>
<text transform="translate(223.85 614.25) scale(1.13 1)" text-anchor="middle" font-size="13" fill="#000" stroke="#000" stroke-width="0.28" word-spacing="2.6">z [Mm]</text>
<text transform="translate(74.45 579.15) scale(1.1 1)" text-anchor="end" font-size="13" fill="#000" stroke="#000" stroke-width="0.28">0.0</text>
<text transform="translate(74.45 536.15) scale(1.1 1)" text-anchor="end" font-size="13" fill="#000" stroke="#000" stroke-width="0.28">0.5</text>
<text transform="translate(74.45 488.15) scale(1.1 1)" text-anchor="end" font-size="13" fill="#000" stroke="#000" stroke-width="0.28">1.0</text>
<text transform="translate(74.45 440.15) scale(1.1 1)" text-anchor="end" font-size="13" fill="#000" stroke="#000" stroke-width="0.28">1.5</text>
<text transform="translate(74.45 392.15) scale(1.1 1)" text-anchor="end" font-size="13" fill="#000" stroke="#000" stroke-width="0.28">2.0</text>
<text transform="translate(74.45 347.95) scale(1.1 1)" text-anchor="end" font-size="13" fill="#000" stroke="#000" stroke-width="0.28">2.5</text>
<text transform="translate(42.5 481.5) rotate(-90)" font-size="13" textLength="7" lengthAdjust="spacingAndGlyphs" stroke="#000" stroke-width="0.28">T</text>
<text transform="translate(42.5 467.2) rotate(-90)" font-size="13" textLength="29" lengthAdjust="spacingAndGlyphs" stroke="#000" stroke-width="0.28">[MK]</text>
<text transform="translate(115 566) scale(1 1)" text-anchor="start" font-size="14" fill="#000" stroke="#000" stroke-width="0.2" letter-spacing="0.9">c)</text>
<text transform="translate(472.1 597.75) scale(1.1 1)" text-anchor="middle" font-size="13" fill="#000" stroke="#000" stroke-width="0.28">0</text>
<text transform="translate(544.99 597.75) scale(1.1 1)" text-anchor="middle" font-size="13" fill="#000" stroke="#000" stroke-width="0.28">10</text>
<text transform="translate(617.88 597.75) scale(1.1 1)" text-anchor="middle" font-size="13" fill="#000" stroke="#000" stroke-width="0.28">20</text>
<text transform="translate(690.76 597.75) scale(1.1 1)" text-anchor="middle" font-size="13" fill="#000" stroke="#000" stroke-width="0.28">30</text>
<text transform="translate(763.65 597.75) scale(1.1 1)" text-anchor="middle" font-size="13" fill="#000" stroke="#000" stroke-width="0.28">40</text>
<text transform="translate(617.57 614.25) scale(1.13 1)" text-anchor="middle" font-size="13" fill="#000" stroke="#000" stroke-width="0.28" word-spacing="2.6">z [Mm]</text>
<text transform="translate(468 579.15) scale(1.04 1)" text-anchor="end" font-size="13" fill="#000" stroke="#000" stroke-width="0.28">10<tspan font-size="9.1" dy="-5.85" stroke-width="0.42">&#8722;16</tspan></text>
<text transform="translate(468 464.15) scale(1.04 1)" text-anchor="end" font-size="13" fill="#000" stroke="#000" stroke-width="0.28">10<tspan font-size="9.1" dy="-5.85" stroke-width="0.42">&#8722;15</tspan></text>
<text transform="translate(468 347.95) scale(1.04 1)" text-anchor="end" font-size="13" fill="#000" stroke="#000" stroke-width="0.28">10<tspan font-size="9.1" dy="-5.85" stroke-width="0.42">&#8722;14</tspan></text>
<text transform="translate(424.2 499.3) rotate(-90)" font-size="13" textLength="18.6" lengthAdjust="spacingAndGlyphs" stroke="#000" stroke-width="0.28">rho</text>
<text transform="translate(424.2 473.9) rotate(-90)" font-size="13" textLength="55.2" lengthAdjust="spacingAndGlyphs" stroke="#000" stroke-width="0.28">[g/cm<tspan font-size="9.1" dy="-5.85" stroke-width="0.42">3</tspan><tspan dy="5.85">]</tspan></text>
<text transform="translate(494 565.7) scale(1 1)" text-anchor="start" font-size="14" fill="#000" stroke="#000" stroke-width="0.2" letter-spacing="0.9">d)</text>
<text transform="translate(617.6 537) scale(0.94 1)" text-anchor="start" font-size="12.6" fill="#ff0000" stroke="#ff0000" stroke-width="0.22">QS</text>
<text transform="translate(690.8 537) scale(0.94 1)" text-anchor="start" font-size="12.6" fill="#00ff00" stroke="#00ff00" stroke-width="0.22">CA</text>
<text transform="translate(617.6 557.8) scale(0.94 1)" text-anchor="start" font-size="12.6" fill="#ff9900" stroke="#ff9900" stroke-width="0.22">OF</text>
<text transform="translate(690.4 557.8) scale(0.94 1)" text-anchor="start" font-size="12.6" fill="#0000ff" stroke="#0000ff" stroke-width="0.22">AR</text>
</g>
</svg>
</body></html>
